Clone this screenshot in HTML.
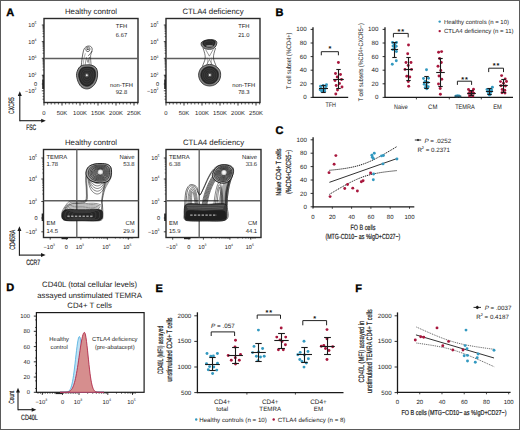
<!DOCTYPE html><html><head><meta charset="utf-8"><style>
html,body{margin:0;padding:0;background:#fff;width:520px;height:430px;overflow:hidden}
svg{display:block;font-family:"Liberation Sans",sans-serif;text-rendering:geometricPrecision}
</style></head><body>
<svg width="520" height="430" viewBox="0 0 520 430" xmlns="http://www.w3.org/2000/svg">
<rect x="0" y="0" width="520" height="430" fill="#fff"/>
<text x="6.30" y="16.30" font-size="11" text-anchor="start" font-weight="bold" fill="#000" stroke="#000" stroke-width="0.35" style="">A</text>
<text x="275.40" y="16.20" font-size="11" text-anchor="start" font-weight="bold" fill="#000" stroke="#000" stroke-width="0.35" style="">B</text>
<text x="275.40" y="134.20" font-size="11" text-anchor="start" font-weight="bold" fill="#000" stroke="#000" stroke-width="0.35" style="">C</text>
<text x="6.20" y="291.20" font-size="11" text-anchor="start" font-weight="bold" fill="#000" stroke="#000" stroke-width="0.35" style="">D</text>
<text x="155.40" y="292.40" font-size="11" text-anchor="start" font-weight="bold" fill="#000" stroke="#000" stroke-width="0.35" style="">E</text>
<text x="355.30" y="291.60" font-size="11" text-anchor="start" font-weight="bold" fill="#000" stroke="#000" stroke-width="0.35" style="">F</text>
<text x="91.00" y="13.80" font-size="7.8" text-anchor="middle" font-weight="normal" fill="#1a1a1a"  style="">Healthy control</text>
<rect x="44.00" y="18.50" width="94.00" height="84.00" fill="none" stroke="#2a2a2a" stroke-width="1.4"/>
<line x1="44.00" y1="58.50" x2="138.00" y2="58.50" stroke="#5e5e5e" stroke-width="1.6" />
<text x="36.50" y="27.10" font-size="5.6" text-anchor="end" fill="#1a1a1a">10<tspan font-size="3.47" dy="-2.80">5</tspan></text>
<text x="36.50" y="43.70" font-size="5.6" text-anchor="end" fill="#1a1a1a">10<tspan font-size="3.47" dy="-2.80">4</tspan></text>
<text x="36.50" y="60.40" font-size="5.6" text-anchor="end" fill="#1a1a1a">10<tspan font-size="3.47" dy="-2.80">3</tspan></text>
<text x="36.50" y="77.30" font-size="5.6" text-anchor="end" fill="#1a1a1a">10<tspan font-size="3.47" dy="-2.80">2</tspan></text>
<text x="37.00" y="86.10" font-size="5.6" text-anchor="end" font-weight="normal" fill="#1a1a1a"  style="">0</text>
<text x="36.50" y="92.90" font-size="5.6" text-anchor="end" fill="#1a1a1a">&#8722;10<tspan font-size="3.47" dy="-2.80">2</tspan></text>
<line x1="41.80" y1="25.00" x2="44.00" y2="25.00" stroke="#1a1a1a" stroke-width="0.8" />
<line x1="41.80" y1="41.60" x2="44.00" y2="41.60" stroke="#1a1a1a" stroke-width="0.8" />
<line x1="41.80" y1="58.30" x2="44.00" y2="58.30" stroke="#1a1a1a" stroke-width="0.8" />
<line x1="41.80" y1="75.20" x2="44.00" y2="75.20" stroke="#1a1a1a" stroke-width="0.8" />
<line x1="41.80" y1="84.00" x2="44.00" y2="84.00" stroke="#1a1a1a" stroke-width="0.8" />
<line x1="41.80" y1="90.80" x2="44.00" y2="90.80" stroke="#1a1a1a" stroke-width="0.8" />
<line x1="42.50" y1="36.60" x2="44.00" y2="36.60" stroke="#1a1a1a" stroke-width="0.6" />
<line x1="42.50" y1="33.68" x2="44.00" y2="33.68" stroke="#1a1a1a" stroke-width="0.6" />
<line x1="42.50" y1="31.61" x2="44.00" y2="31.61" stroke="#1a1a1a" stroke-width="0.6" />
<line x1="42.50" y1="30.00" x2="44.00" y2="30.00" stroke="#1a1a1a" stroke-width="0.6" />
<line x1="42.50" y1="28.68" x2="44.00" y2="28.68" stroke="#1a1a1a" stroke-width="0.6" />
<line x1="42.50" y1="27.57" x2="44.00" y2="27.57" stroke="#1a1a1a" stroke-width="0.6" />
<line x1="42.50" y1="26.61" x2="44.00" y2="26.61" stroke="#1a1a1a" stroke-width="0.6" />
<line x1="42.50" y1="25.76" x2="44.00" y2="25.76" stroke="#1a1a1a" stroke-width="0.6" />
<line x1="42.50" y1="53.20" x2="44.00" y2="53.20" stroke="#1a1a1a" stroke-width="0.6" />
<line x1="42.50" y1="50.28" x2="44.00" y2="50.28" stroke="#1a1a1a" stroke-width="0.6" />
<line x1="42.50" y1="48.21" x2="44.00" y2="48.21" stroke="#1a1a1a" stroke-width="0.6" />
<line x1="42.50" y1="46.60" x2="44.00" y2="46.60" stroke="#1a1a1a" stroke-width="0.6" />
<line x1="42.50" y1="45.28" x2="44.00" y2="45.28" stroke="#1a1a1a" stroke-width="0.6" />
<line x1="42.50" y1="44.17" x2="44.00" y2="44.17" stroke="#1a1a1a" stroke-width="0.6" />
<line x1="42.50" y1="43.21" x2="44.00" y2="43.21" stroke="#1a1a1a" stroke-width="0.6" />
<line x1="42.50" y1="42.36" x2="44.00" y2="42.36" stroke="#1a1a1a" stroke-width="0.6" />
<line x1="42.50" y1="69.90" x2="44.00" y2="69.90" stroke="#1a1a1a" stroke-width="0.6" />
<line x1="42.50" y1="66.98" x2="44.00" y2="66.98" stroke="#1a1a1a" stroke-width="0.6" />
<line x1="42.50" y1="64.91" x2="44.00" y2="64.91" stroke="#1a1a1a" stroke-width="0.6" />
<line x1="42.50" y1="63.30" x2="44.00" y2="63.30" stroke="#1a1a1a" stroke-width="0.6" />
<line x1="42.50" y1="61.98" x2="44.00" y2="61.98" stroke="#1a1a1a" stroke-width="0.6" />
<line x1="42.50" y1="60.87" x2="44.00" y2="60.87" stroke="#1a1a1a" stroke-width="0.6" />
<line x1="42.50" y1="59.91" x2="44.00" y2="59.91" stroke="#1a1a1a" stroke-width="0.6" />
<line x1="42.50" y1="59.06" x2="44.00" y2="59.06" stroke="#1a1a1a" stroke-width="0.6" />
<line x1="42.50" y1="80.79" x2="44.00" y2="80.79" stroke="#1a1a1a" stroke-width="0.6" />
<line x1="42.50" y1="79.38" x2="44.00" y2="79.38" stroke="#1a1a1a" stroke-width="0.6" />
<line x1="42.50" y1="78.38" x2="44.00" y2="78.38" stroke="#1a1a1a" stroke-width="0.6" />
<line x1="42.50" y1="77.61" x2="44.00" y2="77.61" stroke="#1a1a1a" stroke-width="0.6" />
<line x1="42.50" y1="76.97" x2="44.00" y2="76.97" stroke="#1a1a1a" stroke-width="0.6" />
<line x1="42.50" y1="76.44" x2="44.00" y2="76.44" stroke="#1a1a1a" stroke-width="0.6" />
<line x1="42.50" y1="75.98" x2="44.00" y2="75.98" stroke="#1a1a1a" stroke-width="0.6" />
<line x1="42.50" y1="75.57" x2="44.00" y2="75.57" stroke="#1a1a1a" stroke-width="0.6" />
<line x1="42.50" y1="93.60" x2="44.00" y2="93.60" stroke="#1a1a1a" stroke-width="0.6" />
<line x1="42.50" y1="96.40" x2="44.00" y2="96.40" stroke="#1a1a1a" stroke-width="0.6" />
<line x1="42.50" y1="99.20" x2="44.00" y2="99.20" stroke="#1a1a1a" stroke-width="0.6" />
<rect x="42.20" y="79.5" width="1.8" height="9.5" fill="#222"/>
<text x="44.00" y="114.60" font-size="5.9" text-anchor="middle" font-weight="normal" fill="#1a1a1a"  style="">0</text>
<line x1="44.00" y1="102.50" x2="44.00" y2="105.50" stroke="#1a1a1a" stroke-width="0.9" />
<line x1="47.60" y1="102.50" x2="47.60" y2="104.50" stroke="#1a1a1a" stroke-width="0.7" />
<line x1="51.20" y1="102.50" x2="51.20" y2="104.50" stroke="#1a1a1a" stroke-width="0.7" />
<line x1="54.80" y1="102.50" x2="54.80" y2="104.50" stroke="#1a1a1a" stroke-width="0.7" />
<line x1="58.40" y1="102.50" x2="58.40" y2="104.50" stroke="#1a1a1a" stroke-width="0.7" />
<text x="62.00" y="114.60" font-size="5.9" text-anchor="middle" font-weight="normal" fill="#1a1a1a"  style="">50K</text>
<line x1="62.00" y1="102.50" x2="62.00" y2="105.50" stroke="#1a1a1a" stroke-width="0.9" />
<line x1="65.60" y1="102.50" x2="65.60" y2="104.50" stroke="#1a1a1a" stroke-width="0.7" />
<line x1="69.20" y1="102.50" x2="69.20" y2="104.50" stroke="#1a1a1a" stroke-width="0.7" />
<line x1="72.80" y1="102.50" x2="72.80" y2="104.50" stroke="#1a1a1a" stroke-width="0.7" />
<line x1="76.40" y1="102.50" x2="76.40" y2="104.50" stroke="#1a1a1a" stroke-width="0.7" />
<text x="80.00" y="114.60" font-size="5.9" text-anchor="middle" font-weight="normal" fill="#1a1a1a"  style="">100K</text>
<line x1="80.00" y1="102.50" x2="80.00" y2="105.50" stroke="#1a1a1a" stroke-width="0.9" />
<line x1="83.60" y1="102.50" x2="83.60" y2="104.50" stroke="#1a1a1a" stroke-width="0.7" />
<line x1="87.20" y1="102.50" x2="87.20" y2="104.50" stroke="#1a1a1a" stroke-width="0.7" />
<line x1="90.80" y1="102.50" x2="90.80" y2="104.50" stroke="#1a1a1a" stroke-width="0.7" />
<line x1="94.40" y1="102.50" x2="94.40" y2="104.50" stroke="#1a1a1a" stroke-width="0.7" />
<text x="98.00" y="114.60" font-size="5.9" text-anchor="middle" font-weight="normal" fill="#1a1a1a"  style="">150K</text>
<line x1="98.00" y1="102.50" x2="98.00" y2="105.50" stroke="#1a1a1a" stroke-width="0.9" />
<line x1="101.60" y1="102.50" x2="101.60" y2="104.50" stroke="#1a1a1a" stroke-width="0.7" />
<line x1="105.20" y1="102.50" x2="105.20" y2="104.50" stroke="#1a1a1a" stroke-width="0.7" />
<line x1="108.80" y1="102.50" x2="108.80" y2="104.50" stroke="#1a1a1a" stroke-width="0.7" />
<line x1="112.40" y1="102.50" x2="112.40" y2="104.50" stroke="#1a1a1a" stroke-width="0.7" />
<text x="116.00" y="114.60" font-size="5.9" text-anchor="middle" font-weight="normal" fill="#1a1a1a"  style="">200K</text>
<line x1="116.00" y1="102.50" x2="116.00" y2="105.50" stroke="#1a1a1a" stroke-width="0.9" />
<line x1="119.60" y1="102.50" x2="119.60" y2="104.50" stroke="#1a1a1a" stroke-width="0.7" />
<line x1="123.20" y1="102.50" x2="123.20" y2="104.50" stroke="#1a1a1a" stroke-width="0.7" />
<line x1="126.80" y1="102.50" x2="126.80" y2="104.50" stroke="#1a1a1a" stroke-width="0.7" />
<line x1="130.40" y1="102.50" x2="130.40" y2="104.50" stroke="#1a1a1a" stroke-width="0.7" />
<text x="134.00" y="114.60" font-size="5.9" text-anchor="middle" font-weight="normal" fill="#1a1a1a"  style="">250K</text>
<line x1="134.00" y1="102.50" x2="134.00" y2="105.50" stroke="#1a1a1a" stroke-width="0.9" />
<line x1="137.60" y1="102.50" x2="137.60" y2="104.50" stroke="#1a1a1a" stroke-width="0.7" />
<text x="213.00" y="13.80" font-size="7.8" text-anchor="middle" font-weight="normal" fill="#1a1a1a"  style="">CTLA4 deficiency</text>
<rect x="166.00" y="18.50" width="94.00" height="84.00" fill="none" stroke="#2a2a2a" stroke-width="1.4"/>
<line x1="166.00" y1="58.50" x2="260.00" y2="58.50" stroke="#5e5e5e" stroke-width="1.6" />
<text x="158.50" y="27.10" font-size="5.6" text-anchor="end" fill="#1a1a1a">10<tspan font-size="3.47" dy="-2.80">5</tspan></text>
<text x="158.50" y="43.70" font-size="5.6" text-anchor="end" fill="#1a1a1a">10<tspan font-size="3.47" dy="-2.80">4</tspan></text>
<text x="158.50" y="60.40" font-size="5.6" text-anchor="end" fill="#1a1a1a">10<tspan font-size="3.47" dy="-2.80">3</tspan></text>
<text x="158.50" y="77.30" font-size="5.6" text-anchor="end" fill="#1a1a1a">10<tspan font-size="3.47" dy="-2.80">2</tspan></text>
<text x="159.00" y="86.10" font-size="5.6" text-anchor="end" font-weight="normal" fill="#1a1a1a"  style="">0</text>
<text x="158.50" y="92.90" font-size="5.6" text-anchor="end" fill="#1a1a1a">&#8722;10<tspan font-size="3.47" dy="-2.80">2</tspan></text>
<line x1="163.80" y1="25.00" x2="166.00" y2="25.00" stroke="#1a1a1a" stroke-width="0.8" />
<line x1="163.80" y1="41.60" x2="166.00" y2="41.60" stroke="#1a1a1a" stroke-width="0.8" />
<line x1="163.80" y1="58.30" x2="166.00" y2="58.30" stroke="#1a1a1a" stroke-width="0.8" />
<line x1="163.80" y1="75.20" x2="166.00" y2="75.20" stroke="#1a1a1a" stroke-width="0.8" />
<line x1="163.80" y1="84.00" x2="166.00" y2="84.00" stroke="#1a1a1a" stroke-width="0.8" />
<line x1="163.80" y1="90.80" x2="166.00" y2="90.80" stroke="#1a1a1a" stroke-width="0.8" />
<line x1="164.50" y1="36.60" x2="166.00" y2="36.60" stroke="#1a1a1a" stroke-width="0.6" />
<line x1="164.50" y1="33.68" x2="166.00" y2="33.68" stroke="#1a1a1a" stroke-width="0.6" />
<line x1="164.50" y1="31.61" x2="166.00" y2="31.61" stroke="#1a1a1a" stroke-width="0.6" />
<line x1="164.50" y1="30.00" x2="166.00" y2="30.00" stroke="#1a1a1a" stroke-width="0.6" />
<line x1="164.50" y1="28.68" x2="166.00" y2="28.68" stroke="#1a1a1a" stroke-width="0.6" />
<line x1="164.50" y1="27.57" x2="166.00" y2="27.57" stroke="#1a1a1a" stroke-width="0.6" />
<line x1="164.50" y1="26.61" x2="166.00" y2="26.61" stroke="#1a1a1a" stroke-width="0.6" />
<line x1="164.50" y1="25.76" x2="166.00" y2="25.76" stroke="#1a1a1a" stroke-width="0.6" />
<line x1="164.50" y1="53.20" x2="166.00" y2="53.20" stroke="#1a1a1a" stroke-width="0.6" />
<line x1="164.50" y1="50.28" x2="166.00" y2="50.28" stroke="#1a1a1a" stroke-width="0.6" />
<line x1="164.50" y1="48.21" x2="166.00" y2="48.21" stroke="#1a1a1a" stroke-width="0.6" />
<line x1="164.50" y1="46.60" x2="166.00" y2="46.60" stroke="#1a1a1a" stroke-width="0.6" />
<line x1="164.50" y1="45.28" x2="166.00" y2="45.28" stroke="#1a1a1a" stroke-width="0.6" />
<line x1="164.50" y1="44.17" x2="166.00" y2="44.17" stroke="#1a1a1a" stroke-width="0.6" />
<line x1="164.50" y1="43.21" x2="166.00" y2="43.21" stroke="#1a1a1a" stroke-width="0.6" />
<line x1="164.50" y1="42.36" x2="166.00" y2="42.36" stroke="#1a1a1a" stroke-width="0.6" />
<line x1="164.50" y1="69.90" x2="166.00" y2="69.90" stroke="#1a1a1a" stroke-width="0.6" />
<line x1="164.50" y1="66.98" x2="166.00" y2="66.98" stroke="#1a1a1a" stroke-width="0.6" />
<line x1="164.50" y1="64.91" x2="166.00" y2="64.91" stroke="#1a1a1a" stroke-width="0.6" />
<line x1="164.50" y1="63.30" x2="166.00" y2="63.30" stroke="#1a1a1a" stroke-width="0.6" />
<line x1="164.50" y1="61.98" x2="166.00" y2="61.98" stroke="#1a1a1a" stroke-width="0.6" />
<line x1="164.50" y1="60.87" x2="166.00" y2="60.87" stroke="#1a1a1a" stroke-width="0.6" />
<line x1="164.50" y1="59.91" x2="166.00" y2="59.91" stroke="#1a1a1a" stroke-width="0.6" />
<line x1="164.50" y1="59.06" x2="166.00" y2="59.06" stroke="#1a1a1a" stroke-width="0.6" />
<line x1="164.50" y1="80.79" x2="166.00" y2="80.79" stroke="#1a1a1a" stroke-width="0.6" />
<line x1="164.50" y1="79.38" x2="166.00" y2="79.38" stroke="#1a1a1a" stroke-width="0.6" />
<line x1="164.50" y1="78.38" x2="166.00" y2="78.38" stroke="#1a1a1a" stroke-width="0.6" />
<line x1="164.50" y1="77.61" x2="166.00" y2="77.61" stroke="#1a1a1a" stroke-width="0.6" />
<line x1="164.50" y1="76.97" x2="166.00" y2="76.97" stroke="#1a1a1a" stroke-width="0.6" />
<line x1="164.50" y1="76.44" x2="166.00" y2="76.44" stroke="#1a1a1a" stroke-width="0.6" />
<line x1="164.50" y1="75.98" x2="166.00" y2="75.98" stroke="#1a1a1a" stroke-width="0.6" />
<line x1="164.50" y1="75.57" x2="166.00" y2="75.57" stroke="#1a1a1a" stroke-width="0.6" />
<line x1="164.50" y1="93.60" x2="166.00" y2="93.60" stroke="#1a1a1a" stroke-width="0.6" />
<line x1="164.50" y1="96.40" x2="166.00" y2="96.40" stroke="#1a1a1a" stroke-width="0.6" />
<line x1="164.50" y1="99.20" x2="166.00" y2="99.20" stroke="#1a1a1a" stroke-width="0.6" />
<rect x="164.20" y="79.5" width="1.8" height="9.5" fill="#222"/>
<text x="166.00" y="114.60" font-size="5.9" text-anchor="middle" font-weight="normal" fill="#1a1a1a"  style="">0</text>
<line x1="166.00" y1="102.50" x2="166.00" y2="105.50" stroke="#1a1a1a" stroke-width="0.9" />
<line x1="169.60" y1="102.50" x2="169.60" y2="104.50" stroke="#1a1a1a" stroke-width="0.7" />
<line x1="173.20" y1="102.50" x2="173.20" y2="104.50" stroke="#1a1a1a" stroke-width="0.7" />
<line x1="176.80" y1="102.50" x2="176.80" y2="104.50" stroke="#1a1a1a" stroke-width="0.7" />
<line x1="180.40" y1="102.50" x2="180.40" y2="104.50" stroke="#1a1a1a" stroke-width="0.7" />
<text x="184.00" y="114.60" font-size="5.9" text-anchor="middle" font-weight="normal" fill="#1a1a1a"  style="">50K</text>
<line x1="184.00" y1="102.50" x2="184.00" y2="105.50" stroke="#1a1a1a" stroke-width="0.9" />
<line x1="187.60" y1="102.50" x2="187.60" y2="104.50" stroke="#1a1a1a" stroke-width="0.7" />
<line x1="191.20" y1="102.50" x2="191.20" y2="104.50" stroke="#1a1a1a" stroke-width="0.7" />
<line x1="194.80" y1="102.50" x2="194.80" y2="104.50" stroke="#1a1a1a" stroke-width="0.7" />
<line x1="198.40" y1="102.50" x2="198.40" y2="104.50" stroke="#1a1a1a" stroke-width="0.7" />
<text x="202.00" y="114.60" font-size="5.9" text-anchor="middle" font-weight="normal" fill="#1a1a1a"  style="">100K</text>
<line x1="202.00" y1="102.50" x2="202.00" y2="105.50" stroke="#1a1a1a" stroke-width="0.9" />
<line x1="205.60" y1="102.50" x2="205.60" y2="104.50" stroke="#1a1a1a" stroke-width="0.7" />
<line x1="209.20" y1="102.50" x2="209.20" y2="104.50" stroke="#1a1a1a" stroke-width="0.7" />
<line x1="212.80" y1="102.50" x2="212.80" y2="104.50" stroke="#1a1a1a" stroke-width="0.7" />
<line x1="216.40" y1="102.50" x2="216.40" y2="104.50" stroke="#1a1a1a" stroke-width="0.7" />
<text x="220.00" y="114.60" font-size="5.9" text-anchor="middle" font-weight="normal" fill="#1a1a1a"  style="">150K</text>
<line x1="220.00" y1="102.50" x2="220.00" y2="105.50" stroke="#1a1a1a" stroke-width="0.9" />
<line x1="223.60" y1="102.50" x2="223.60" y2="104.50" stroke="#1a1a1a" stroke-width="0.7" />
<line x1="227.20" y1="102.50" x2="227.20" y2="104.50" stroke="#1a1a1a" stroke-width="0.7" />
<line x1="230.80" y1="102.50" x2="230.80" y2="104.50" stroke="#1a1a1a" stroke-width="0.7" />
<line x1="234.40" y1="102.50" x2="234.40" y2="104.50" stroke="#1a1a1a" stroke-width="0.7" />
<text x="238.00" y="114.60" font-size="5.9" text-anchor="middle" font-weight="normal" fill="#1a1a1a"  style="">200K</text>
<line x1="238.00" y1="102.50" x2="238.00" y2="105.50" stroke="#1a1a1a" stroke-width="0.9" />
<line x1="241.60" y1="102.50" x2="241.60" y2="104.50" stroke="#1a1a1a" stroke-width="0.7" />
<line x1="245.20" y1="102.50" x2="245.20" y2="104.50" stroke="#1a1a1a" stroke-width="0.7" />
<line x1="248.80" y1="102.50" x2="248.80" y2="104.50" stroke="#1a1a1a" stroke-width="0.7" />
<line x1="252.40" y1="102.50" x2="252.40" y2="104.50" stroke="#1a1a1a" stroke-width="0.7" />
<text x="256.00" y="114.60" font-size="5.9" text-anchor="middle" font-weight="normal" fill="#1a1a1a"  style="">250K</text>
<line x1="256.00" y1="102.50" x2="256.00" y2="105.50" stroke="#1a1a1a" stroke-width="0.9" />
<line x1="259.60" y1="102.50" x2="259.60" y2="104.50" stroke="#1a1a1a" stroke-width="0.7" />
<text x="121.50" y="28.30" font-size="5.8" text-anchor="middle" font-weight="normal" fill="#1a1a1a"  style="">TFH</text>
<text x="121.50" y="37.20" font-size="5.8" text-anchor="middle" font-weight="normal" fill="#1a1a1a"  style="">6.67</text>
<text x="121.50" y="86.90" font-size="5.8" text-anchor="middle" font-weight="normal" fill="#1a1a1a"  style="">non-TFH</text>
<text x="121.50" y="93.80" font-size="5.8" text-anchor="middle" font-weight="normal" fill="#1a1a1a"  style="">92.8</text>
<text x="243.80" y="28.30" font-size="5.8" text-anchor="middle" font-weight="normal" fill="#1a1a1a"  style="">TFH</text>
<text x="243.80" y="37.20" font-size="5.8" text-anchor="middle" font-weight="normal" fill="#1a1a1a"  style="">21.0</text>
<text x="243.80" y="86.90" font-size="5.8" text-anchor="middle" font-weight="normal" fill="#1a1a1a"  style="">non-TFH</text>
<text x="243.80" y="93.80" font-size="5.8" text-anchor="middle" font-weight="normal" fill="#1a1a1a"  style="">78.3</text>
<line x1="19.80" y1="94.30" x2="19.80" y2="121.25" stroke="#1a1a1a" stroke-width="1.1" />
<line x1="19.80" y1="120.70" x2="42.80" y2="120.70" stroke="#1a1a1a" stroke-width="1.1" />
<path d="M17.80,95.90 L19.80,91.30 L21.80,95.90Z" fill="#1a1a1a"/>
<path d="M41.20,118.70 L45.80,120.70 L41.20,122.70Z" fill="#1a1a1a"/>
<text transform="translate(14.03,105.60) rotate(-90)" x="0" y="0" font-size="7.8" text-anchor="middle" font-weight="normal" stroke="#1a1a1a" stroke-width="0.2" fill="#1a1a1a" textLength="16.6" lengthAdjust="spacingAndGlyphs">CXCR5</text>
<text x="31.10" y="129.90" font-size="7.8" text-anchor="middle" font-weight="normal" stroke="#1a1a1a" stroke-width="0.2" fill="#1a1a1a" textLength="9.9" lengthAdjust="spacingAndGlyphs"  style="">FSC</text>
<g fill="none" stroke="#1a1a1a">
<path d="M81.2,67 C81.6,61 82.4,55 83.6,50.2 C84.4,47.2 87,45.8 89.2,46.0 C91.4,46.3 92.6,48.0 92.1,50.4 C91.6,52.6 89.6,54.2 88.3,55.8" stroke-width="0.65"/>
<path d="M91.2,67 C91,62.5 90.4,59 90.6,55.5 C90.8,53.8 91.6,52.6 92.1,51" stroke-width="0.55"/>
<path d="M83,67 C83.3,62 84,57 85.4,53.3 M89.4,67 C89.2,63 88.8,60 89.6,57" stroke-width="0.45" stroke="#555"/>
<path d="M84.8,66.5 L86.4,57.5 L88,62.5 L89.4,57" stroke-width="0.5" stroke="#333"/>
<ellipse cx="87.9" cy="49.3" rx="2.0" ry="2.3" transform="rotate(20 87.9 49.3)" stroke-width="0.6"/>
</g>
<circle cx="87.9" cy="49.2" r="0.9" fill="#444"/>
<path d="M80.00,66.60 C81.57,65.17 84.00,65.12 86.00,64.90 C88.00,64.68 90.30,64.78 92.00,65.30 C93.70,65.82 95.27,66.72 96.20,68.00 C97.13,69.28 97.47,71.17 97.60,73.00 C97.73,74.83 97.52,77.08 97.00,79.00 C96.48,80.92 95.67,82.97 94.50,84.50 C93.33,86.03 91.50,87.48 90.00,88.20 C88.50,88.92 87.00,89.08 85.50,88.80 C84.00,88.52 82.28,87.80 81.00,86.50 C79.72,85.20 78.53,83.17 77.80,81.00 C77.07,78.83 76.23,75.90 76.60,73.50 C76.97,71.10 78.43,68.03 80.00,66.60Z" fill="#808080" stroke="#141414" stroke-width="0.75"/>
<path d="M80.63,67.40 C82.06,66.10 84.27,66.05 86.09,65.85 C87.91,65.66 90.00,65.75 91.55,66.22 C93.10,66.69 94.52,67.51 95.37,68.67 C96.22,69.84 96.52,71.56 96.65,73.22 C96.77,74.89 96.57,76.94 96.10,78.69 C95.63,80.43 94.89,82.29 93.83,83.69 C92.76,85.09 91.09,86.40 89.73,87.06 C88.37,87.71 87.00,87.86 85.64,87.60 C84.27,87.35 82.71,86.69 81.54,85.51 C80.37,84.33 79.30,82.48 78.63,80.50 C77.96,78.53 77.20,75.86 77.54,73.68 C77.87,71.50 79.20,68.71 80.63,67.40Z" fill="none" stroke="#8a8a8a" stroke-width="0.4"/>
<path d="M81.40,68.38 C82.65,67.23 84.60,67.19 86.20,67.02 C87.80,66.85 89.64,66.93 91.00,67.34 C92.36,67.75 93.61,68.47 94.36,69.50 C95.11,70.53 95.37,72.03 95.48,73.50 C95.59,74.97 95.41,76.77 95.00,78.30 C94.59,79.83 93.93,81.47 93.00,82.70 C92.07,83.93 90.60,85.09 89.40,85.66 C88.20,86.23 87.00,86.37 85.80,86.14 C84.60,85.91 83.23,85.34 82.20,84.30 C81.17,83.26 80.23,81.63 79.64,79.90 C79.05,78.17 78.39,75.82 78.68,73.90 C78.97,71.98 80.15,69.53 81.40,68.38Z" fill="#2b2b2b" stroke="#111" stroke-width="0.6"/>
<path d="M82.52,69.80 C83.52,68.89 85.08,68.85 86.36,68.72 C87.64,68.58 89.11,68.64 90.20,68.97 C91.29,69.30 92.29,69.88 92.89,70.70 C93.49,71.52 93.70,72.73 93.78,73.90 C93.87,75.07 93.73,76.51 93.40,77.74 C93.07,78.97 92.55,80.28 91.80,81.26 C91.05,82.24 89.88,83.17 88.92,83.63 C87.96,84.09 87.00,84.19 86.04,84.01 C85.08,83.83 83.98,83.37 83.16,82.54 C82.34,81.71 81.58,80.41 81.11,79.02 C80.64,77.63 80.11,75.76 80.34,74.22 C80.58,72.68 81.52,70.72 82.52,69.80Z" fill="none" stroke="#4c4c4c" stroke-width="0.45"/>
<path d="M83.64,71.23 C84.39,70.54 85.56,70.52 86.52,70.41 C87.48,70.31 88.58,70.36 89.40,70.60 C90.22,70.85 90.97,71.28 91.42,71.90 C91.86,72.52 92.02,73.42 92.09,74.30 C92.15,75.18 92.05,76.26 91.80,77.18 C91.55,78.10 91.16,79.08 90.60,79.82 C90.04,80.56 89.16,81.25 88.44,81.60 C87.72,81.94 87.00,82.02 86.28,81.88 C85.56,81.75 84.74,81.40 84.12,80.78 C83.50,80.16 82.94,79.18 82.58,78.14 C82.23,77.10 81.83,75.69 82.01,74.54 C82.18,73.39 82.89,71.92 83.64,71.23Z" fill="none" stroke="#4c4c4c" stroke-width="0.45"/>
<path d="M84.76,72.65 C85.26,72.19 86.04,72.18 86.68,72.11 C87.32,72.04 88.06,72.07 88.60,72.24 C89.14,72.40 89.65,72.69 89.94,73.10 C90.24,73.51 90.35,74.11 90.39,74.70 C90.43,75.29 90.37,76.01 90.20,76.62 C90.03,77.23 89.77,77.89 89.40,78.38 C89.03,78.87 88.44,79.33 87.96,79.56 C87.48,79.79 87.00,79.85 86.52,79.76 C86.04,79.67 85.49,79.44 85.08,79.02 C84.67,78.60 84.29,77.95 84.06,77.26 C83.82,76.57 83.55,75.63 83.67,74.86 C83.79,74.09 84.26,73.11 84.76,72.65Z" fill="none" stroke="#4c4c4c" stroke-width="0.45"/>
<circle cx="86.80" cy="75.30" r="2.2" fill="#6a6a6a" opacity="0.6"/>
<circle cx="86.80" cy="75.30" r="1.0" fill="#eeeeee"/>
<g fill="none" stroke="#1a1a1a">
<path d="M203.0,48.0 C204.4,52 205.4,55 205.2,58 C205.0,61 203.4,63.2 202.4,66.5" stroke-width="0.6"/>
<path d="M215.6,48.0 C214.3,52 213.3,55 213.5,58 C213.7,61 215.2,63.2 216.3,66.5" stroke-width="0.6"/>
<path d="M205.6,49.5 L209.4,56.2 L213.2,49.5" stroke-width="0.5" stroke="#333"/>
<path d="M206.2,65.8 L209.4,59.4 L212.6,65.8" stroke-width="0.5" stroke="#333"/>
<path d="M207.2,57.5 L207.6,64 M211.6,57.5 L211.2,64" stroke-width="0.4" stroke="#555"/>
</g>
<path d="M201.80,42.00 C202.53,41.38 204.05,40.67 205.50,40.30 C206.95,39.93 208.95,39.80 210.50,39.80 C212.05,39.80 213.75,39.88 214.80,40.30 C215.85,40.72 216.60,41.38 216.80,42.30 C217.00,43.22 216.57,44.75 216.00,45.80 C215.43,46.85 214.50,48.02 213.40,48.60 C212.30,49.18 210.77,49.28 209.40,49.30 C208.03,49.32 206.43,49.15 205.20,48.70 C203.97,48.25 202.68,47.38 202.00,46.60 C201.32,45.82 201.13,44.77 201.10,44.00 C201.07,43.23 201.07,42.62 201.80,42.00Z" fill="#808080" stroke="#141414" stroke-width="0.75"/>
<path d="M202.45,42.23 C203.12,41.66 204.50,41.01 205.81,40.68 C207.13,40.34 208.95,40.22 210.37,40.22 C211.78,40.22 213.32,40.30 214.28,40.68 C215.23,41.06 215.92,41.66 216.10,42.50 C216.28,43.33 215.89,44.73 215.37,45.68 C214.85,46.64 214.01,47.70 213.00,48.23 C212.00,48.76 210.61,48.85 209.36,48.87 C208.12,48.88 206.66,48.73 205.54,48.32 C204.42,47.91 203.25,47.12 202.63,46.41 C202.01,45.70 201.84,44.74 201.81,44.05 C201.78,43.35 201.78,42.79 202.45,42.23Z" fill="none" stroke="#8a8a8a" stroke-width="0.4"/>
<path d="M203.38,41.55 C203.96,41.07 205.14,40.51 206.27,40.22 C207.40,39.94 208.96,39.83 210.17,39.83 C211.38,39.83 212.70,39.90 213.52,40.22 C214.34,40.55 214.93,41.07 215.08,41.78 C215.24,42.50 214.90,43.69 214.46,44.51 C214.02,45.33 213.29,46.24 212.43,46.70 C211.57,47.15 210.38,47.23 209.31,47.24 C208.25,47.26 207.00,47.13 206.04,46.78 C205.07,46.43 204.07,45.75 203.54,45.14 C203.01,44.53 202.86,43.71 202.84,43.11 C202.81,42.51 202.81,42.03 203.38,41.55Z" fill="#2b2b2b" stroke="#111" stroke-width="0.6"/>
<path d="M205.04,42.12 C205.44,41.79 206.28,41.39 207.07,41.19 C207.87,40.99 208.97,40.91 209.82,40.91 C210.68,40.91 211.61,40.96 212.19,41.19 C212.77,41.42 213.18,41.79 213.29,42.29 C213.40,42.79 213.16,43.64 212.85,44.21 C212.54,44.79 212.03,45.43 211.42,45.76 C210.82,46.08 209.97,46.13 209.22,46.14 C208.47,46.15 207.59,46.06 206.91,45.81 C206.23,45.56 205.53,45.09 205.15,44.66 C204.77,44.22 204.67,43.65 204.66,43.23 C204.64,42.80 204.64,42.46 205.04,42.12Z" fill="none" stroke="#4c4c4c" stroke-width="0.45"/>
<ellipse cx="209.6" cy="45.9" rx="3.4" ry="0.9" fill="#a8a8a8" opacity="0.8"/>
<path d="M202.80,66.60 C204.45,65.58 207.30,64.43 209.50,64.40 C211.70,64.37 214.28,65.40 216.00,66.40 C217.72,67.40 219.03,68.88 219.80,70.40 C220.57,71.92 220.70,73.80 220.60,75.50 C220.50,77.20 220.10,79.08 219.20,80.60 C218.30,82.12 216.80,83.70 215.20,84.60 C213.60,85.50 211.47,86.00 209.60,86.00 C207.73,86.00 205.57,85.50 204.00,84.60 C202.43,83.70 201.10,82.12 200.20,80.60 C199.30,79.08 198.70,77.18 198.60,75.50 C198.50,73.82 198.90,71.98 199.60,70.50 C200.30,69.02 201.15,67.62 202.80,66.60Z" fill="#808080" stroke="#141414" stroke-width="0.75"/>
<path d="M203.41,67.37 C204.91,66.45 207.51,65.40 209.51,65.37 C211.51,65.34 213.86,66.28 215.42,67.19 C216.99,68.10 218.18,69.45 218.88,70.83 C219.58,72.21 219.70,73.93 219.61,75.47 C219.52,77.02 219.15,78.73 218.34,80.11 C217.52,81.49 216.15,82.93 214.70,83.75 C213.24,84.57 211.30,85.03 209.60,85.03 C207.90,85.03 205.93,84.57 204.50,83.75 C203.08,82.93 201.86,81.49 201.05,80.11 C200.23,78.73 199.68,77.00 199.59,75.47 C199.50,73.94 199.86,72.27 200.50,70.92 C201.14,69.57 201.91,68.30 203.41,67.37Z" fill="none" stroke="#8a8a8a" stroke-width="0.4"/>
<path d="M204.16,68.32 C205.48,67.51 207.76,66.59 209.52,66.56 C211.28,66.53 213.35,67.36 214.72,68.16 C216.09,68.96 217.15,70.15 217.76,71.36 C218.37,72.57 218.48,74.08 218.40,75.44 C218.32,76.80 218.00,78.31 217.28,79.52 C216.56,80.73 215.36,82.00 214.08,82.72 C212.80,83.44 211.09,83.84 209.60,83.84 C208.11,83.84 206.37,83.44 205.12,82.72 C203.87,82.00 202.80,80.73 202.08,79.52 C201.36,78.31 200.88,76.79 200.80,75.44 C200.72,74.09 201.04,72.63 201.60,71.44 C202.16,70.25 202.84,69.13 204.16,68.32Z" fill="#2b2b2b" stroke="#111" stroke-width="0.6"/>
<path d="M205.25,69.70 C206.30,69.05 208.13,68.31 209.54,68.29 C210.94,68.27 212.60,68.93 213.70,69.57 C214.79,70.21 215.64,71.16 216.13,72.13 C216.62,73.10 216.70,74.30 216.64,75.39 C216.58,76.48 216.32,77.69 215.74,78.66 C215.17,79.63 214.21,80.64 213.18,81.22 C212.16,81.79 210.79,82.11 209.60,82.11 C208.41,82.11 207.02,81.79 206.02,81.22 C205.01,80.64 204.16,79.63 203.58,78.66 C203.01,77.69 202.62,76.47 202.56,75.39 C202.50,74.31 202.75,73.14 203.20,72.19 C203.65,71.24 204.19,70.35 205.25,69.70Z" fill="none" stroke="#4c4c4c" stroke-width="0.45"/>
<path d="M206.34,71.07 C207.13,70.58 208.50,70.03 209.55,70.02 C210.61,70.00 211.85,70.50 212.67,70.98 C213.50,71.46 214.13,72.17 214.50,72.90 C214.86,73.62 214.93,74.53 214.88,75.34 C214.83,76.16 214.64,77.06 214.21,77.79 C213.78,78.52 213.06,79.28 212.29,79.71 C211.52,80.14 210.50,80.38 209.60,80.38 C208.70,80.38 207.66,80.14 206.91,79.71 C206.16,79.28 205.52,78.52 205.09,77.79 C204.66,77.06 204.37,76.15 204.32,75.34 C204.27,74.54 204.46,73.66 204.80,72.94 C205.14,72.23 205.54,71.56 206.34,71.07Z" fill="none" stroke="#4c4c4c" stroke-width="0.45"/>
<path d="M207.42,72.45 C207.95,72.12 208.86,71.75 209.57,71.74 C210.27,71.73 211.10,72.06 211.65,72.38 C212.20,72.70 212.62,73.18 212.86,73.66 C213.11,74.15 213.15,74.75 213.12,75.30 C213.09,75.84 212.96,76.44 212.67,76.93 C212.38,77.41 211.90,77.92 211.39,78.21 C210.88,78.50 210.20,78.66 209.60,78.66 C209.00,78.66 208.31,78.50 207.81,78.21 C207.31,77.92 206.88,77.41 206.59,76.93 C206.30,76.44 206.11,75.83 206.08,75.30 C206.05,74.76 206.18,74.17 206.40,73.70 C206.62,73.22 206.90,72.77 207.42,72.45Z" fill="none" stroke="#4c4c4c" stroke-width="0.45"/>
<circle cx="209.80" cy="75.00" r="2.2" fill="#6a6a6a" opacity="0.6"/>
<circle cx="209.80" cy="75.00" r="1.0" fill="#eeeeee"/>
<text x="91.00" y="144.80" font-size="7.8" text-anchor="middle" font-weight="normal" fill="#1a1a1a"  style="">Healthy control</text>
<rect x="43.50" y="149.50" width="95.00" height="88.00" fill="none" stroke="#2a2a2a" stroke-width="1.4"/>
<line x1="43.50" y1="200.80" x2="138.50" y2="200.80" stroke="#5e5e5e" stroke-width="1.5" />
<line x1="76.80" y1="149.50" x2="76.80" y2="237.50" stroke="#666" stroke-width="1.4" />
<text x="37.00" y="160.10" font-size="5.6" text-anchor="end" fill="#1a1a1a">10<tspan font-size="3.47" dy="-2.80">5</tspan></text>
<text x="37.00" y="181.10" font-size="5.6" text-anchor="end" fill="#1a1a1a">10<tspan font-size="3.47" dy="-2.80">4</tspan></text>
<text x="37.00" y="203.60" font-size="5.6" text-anchor="end" fill="#1a1a1a">10<tspan font-size="3.47" dy="-2.80">3</tspan></text>
<text x="37.50" y="220.10" font-size="5.6" text-anchor="end" font-weight="normal" fill="#1a1a1a"  style="">0</text>
<text x="37.00" y="233.90" font-size="5.6" text-anchor="end" fill="#1a1a1a">&#8722;10<tspan font-size="3.47" dy="-2.80">3</tspan></text>
<line x1="41.30" y1="158.00" x2="43.50" y2="158.00" stroke="#1a1a1a" stroke-width="0.8" />
<line x1="41.30" y1="179.00" x2="43.50" y2="179.00" stroke="#1a1a1a" stroke-width="0.8" />
<line x1="41.30" y1="201.50" x2="43.50" y2="201.50" stroke="#1a1a1a" stroke-width="0.8" />
<line x1="41.30" y1="218.00" x2="43.50" y2="218.00" stroke="#1a1a1a" stroke-width="0.8" />
<line x1="41.30" y1="231.80" x2="43.50" y2="231.80" stroke="#1a1a1a" stroke-width="0.8" />
<line x1="42.20" y1="173.03" x2="43.50" y2="173.03" stroke="#1a1a1a" stroke-width="0.5" />
<line x1="42.20" y1="169.24" x2="43.50" y2="169.24" stroke="#1a1a1a" stroke-width="0.5" />
<line x1="42.20" y1="166.56" x2="43.50" y2="166.56" stroke="#1a1a1a" stroke-width="0.5" />
<line x1="42.20" y1="164.47" x2="43.50" y2="164.47" stroke="#1a1a1a" stroke-width="0.5" />
<line x1="42.20" y1="162.77" x2="43.50" y2="162.77" stroke="#1a1a1a" stroke-width="0.5" />
<line x1="42.20" y1="161.33" x2="43.50" y2="161.33" stroke="#1a1a1a" stroke-width="0.5" />
<line x1="42.20" y1="160.08" x2="43.50" y2="160.08" stroke="#1a1a1a" stroke-width="0.5" />
<line x1="42.20" y1="158.98" x2="43.50" y2="158.98" stroke="#1a1a1a" stroke-width="0.5" />
<line x1="42.20" y1="194.03" x2="43.50" y2="194.03" stroke="#1a1a1a" stroke-width="0.5" />
<line x1="42.20" y1="190.24" x2="43.50" y2="190.24" stroke="#1a1a1a" stroke-width="0.5" />
<line x1="42.20" y1="187.56" x2="43.50" y2="187.56" stroke="#1a1a1a" stroke-width="0.5" />
<line x1="42.20" y1="185.47" x2="43.50" y2="185.47" stroke="#1a1a1a" stroke-width="0.5" />
<line x1="42.20" y1="183.77" x2="43.50" y2="183.77" stroke="#1a1a1a" stroke-width="0.5" />
<line x1="42.20" y1="182.33" x2="43.50" y2="182.33" stroke="#1a1a1a" stroke-width="0.5" />
<line x1="42.20" y1="181.08" x2="43.50" y2="181.08" stroke="#1a1a1a" stroke-width="0.5" />
<line x1="42.20" y1="179.98" x2="43.50" y2="179.98" stroke="#1a1a1a" stroke-width="0.5" />
<rect x="41.70" y="213.5" width="1.8" height="7.5" fill="#222"/>
<text x="49.20" y="248.7" font-size="5.6" text-anchor="middle" fill="#1a1a1a">&#8722;10<tspan font-size="3.4" dy="-2.7">3</tspan></text>
<line x1="50.20" y1="237.50" x2="50.20" y2="239.70" stroke="#1a1a1a" stroke-width="0.8" />
<text x="66.40" y="248.70" font-size="5.6" text-anchor="middle" font-weight="normal" fill="#1a1a1a"  style="">0</text>
<line x1="66.40" y1="237.50" x2="66.40" y2="239.70" stroke="#1a1a1a" stroke-width="0.8" />
<text x="79.90" y="248.7" font-size="5.6" text-anchor="middle" fill="#1a1a1a">10<tspan font-size="3.4" dy="-2.7">3</tspan></text>
<line x1="80.90" y1="237.50" x2="80.90" y2="239.70" stroke="#1a1a1a" stroke-width="0.8" />
<text x="106.40" y="248.7" font-size="5.6" text-anchor="middle" fill="#1a1a1a">10<tspan font-size="3.4" dy="-2.7">4</tspan></text>
<line x1="107.40" y1="237.50" x2="107.40" y2="239.70" stroke="#1a1a1a" stroke-width="0.8" />
<text x="127.30" y="248.7" font-size="5.6" text-anchor="middle" fill="#1a1a1a">10<tspan font-size="3.4" dy="-2.7">5</tspan></text>
<line x1="128.30" y1="237.50" x2="128.30" y2="239.70" stroke="#1a1a1a" stroke-width="0.8" />
<line x1="88.88" y1="237.50" x2="88.88" y2="238.80" stroke="#1a1a1a" stroke-width="0.5" />
<line x1="93.54" y1="237.50" x2="93.54" y2="238.80" stroke="#1a1a1a" stroke-width="0.5" />
<line x1="96.85" y1="237.50" x2="96.85" y2="238.80" stroke="#1a1a1a" stroke-width="0.5" />
<line x1="99.42" y1="237.50" x2="99.42" y2="238.80" stroke="#1a1a1a" stroke-width="0.5" />
<line x1="101.52" y1="237.50" x2="101.52" y2="238.80" stroke="#1a1a1a" stroke-width="0.5" />
<line x1="103.30" y1="237.50" x2="103.30" y2="238.80" stroke="#1a1a1a" stroke-width="0.5" />
<line x1="104.83" y1="237.50" x2="104.83" y2="238.80" stroke="#1a1a1a" stroke-width="0.5" />
<line x1="106.19" y1="237.50" x2="106.19" y2="238.80" stroke="#1a1a1a" stroke-width="0.5" />
<line x1="115.38" y1="237.50" x2="115.38" y2="238.80" stroke="#1a1a1a" stroke-width="0.5" />
<line x1="120.04" y1="237.50" x2="120.04" y2="238.80" stroke="#1a1a1a" stroke-width="0.5" />
<line x1="123.35" y1="237.50" x2="123.35" y2="238.80" stroke="#1a1a1a" stroke-width="0.5" />
<line x1="125.92" y1="237.50" x2="125.92" y2="238.80" stroke="#1a1a1a" stroke-width="0.5" />
<line x1="128.02" y1="237.50" x2="128.02" y2="238.80" stroke="#1a1a1a" stroke-width="0.5" />
<line x1="129.80" y1="237.50" x2="129.80" y2="238.80" stroke="#1a1a1a" stroke-width="0.5" />
<line x1="131.33" y1="237.50" x2="131.33" y2="238.80" stroke="#1a1a1a" stroke-width="0.5" />
<line x1="132.69" y1="237.50" x2="132.69" y2="238.80" stroke="#1a1a1a" stroke-width="0.5" />
<rect x="61.50" y="237.50" width="6.5" height="1.7" fill="#222"/>
<text x="213.50" y="144.80" font-size="7.8" text-anchor="middle" font-weight="normal" fill="#1a1a1a"  style="">CTLA4 deficiency</text>
<rect x="166.00" y="149.50" width="95.00" height="88.00" fill="none" stroke="#2a2a2a" stroke-width="1.4"/>
<line x1="166.00" y1="200.80" x2="261.00" y2="200.80" stroke="#5e5e5e" stroke-width="1.5" />
<line x1="199.20" y1="149.50" x2="199.20" y2="237.50" stroke="#666" stroke-width="1.4" />
<text x="159.50" y="160.10" font-size="5.6" text-anchor="end" fill="#1a1a1a">10<tspan font-size="3.47" dy="-2.80">5</tspan></text>
<text x="159.50" y="181.10" font-size="5.6" text-anchor="end" fill="#1a1a1a">10<tspan font-size="3.47" dy="-2.80">4</tspan></text>
<text x="159.50" y="203.60" font-size="5.6" text-anchor="end" fill="#1a1a1a">10<tspan font-size="3.47" dy="-2.80">3</tspan></text>
<text x="160.00" y="220.10" font-size="5.6" text-anchor="end" font-weight="normal" fill="#1a1a1a"  style="">0</text>
<text x="159.50" y="233.90" font-size="5.6" text-anchor="end" fill="#1a1a1a">&#8722;10<tspan font-size="3.47" dy="-2.80">3</tspan></text>
<line x1="163.80" y1="158.00" x2="166.00" y2="158.00" stroke="#1a1a1a" stroke-width="0.8" />
<line x1="163.80" y1="179.00" x2="166.00" y2="179.00" stroke="#1a1a1a" stroke-width="0.8" />
<line x1="163.80" y1="201.50" x2="166.00" y2="201.50" stroke="#1a1a1a" stroke-width="0.8" />
<line x1="163.80" y1="218.00" x2="166.00" y2="218.00" stroke="#1a1a1a" stroke-width="0.8" />
<line x1="163.80" y1="231.80" x2="166.00" y2="231.80" stroke="#1a1a1a" stroke-width="0.8" />
<line x1="164.70" y1="173.03" x2="166.00" y2="173.03" stroke="#1a1a1a" stroke-width="0.5" />
<line x1="164.70" y1="169.24" x2="166.00" y2="169.24" stroke="#1a1a1a" stroke-width="0.5" />
<line x1="164.70" y1="166.56" x2="166.00" y2="166.56" stroke="#1a1a1a" stroke-width="0.5" />
<line x1="164.70" y1="164.47" x2="166.00" y2="164.47" stroke="#1a1a1a" stroke-width="0.5" />
<line x1="164.70" y1="162.77" x2="166.00" y2="162.77" stroke="#1a1a1a" stroke-width="0.5" />
<line x1="164.70" y1="161.33" x2="166.00" y2="161.33" stroke="#1a1a1a" stroke-width="0.5" />
<line x1="164.70" y1="160.08" x2="166.00" y2="160.08" stroke="#1a1a1a" stroke-width="0.5" />
<line x1="164.70" y1="158.98" x2="166.00" y2="158.98" stroke="#1a1a1a" stroke-width="0.5" />
<line x1="164.70" y1="194.03" x2="166.00" y2="194.03" stroke="#1a1a1a" stroke-width="0.5" />
<line x1="164.70" y1="190.24" x2="166.00" y2="190.24" stroke="#1a1a1a" stroke-width="0.5" />
<line x1="164.70" y1="187.56" x2="166.00" y2="187.56" stroke="#1a1a1a" stroke-width="0.5" />
<line x1="164.70" y1="185.47" x2="166.00" y2="185.47" stroke="#1a1a1a" stroke-width="0.5" />
<line x1="164.70" y1="183.77" x2="166.00" y2="183.77" stroke="#1a1a1a" stroke-width="0.5" />
<line x1="164.70" y1="182.33" x2="166.00" y2="182.33" stroke="#1a1a1a" stroke-width="0.5" />
<line x1="164.70" y1="181.08" x2="166.00" y2="181.08" stroke="#1a1a1a" stroke-width="0.5" />
<line x1="164.70" y1="179.98" x2="166.00" y2="179.98" stroke="#1a1a1a" stroke-width="0.5" />
<rect x="164.20" y="213.5" width="1.8" height="7.5" fill="#222"/>
<text x="171.70" y="248.7" font-size="5.6" text-anchor="middle" fill="#1a1a1a">&#8722;10<tspan font-size="3.4" dy="-2.7">3</tspan></text>
<line x1="172.70" y1="237.50" x2="172.70" y2="239.70" stroke="#1a1a1a" stroke-width="0.8" />
<text x="188.90" y="248.70" font-size="5.6" text-anchor="middle" font-weight="normal" fill="#1a1a1a"  style="">0</text>
<line x1="188.90" y1="237.50" x2="188.90" y2="239.70" stroke="#1a1a1a" stroke-width="0.8" />
<text x="202.40" y="248.7" font-size="5.6" text-anchor="middle" fill="#1a1a1a">10<tspan font-size="3.4" dy="-2.7">3</tspan></text>
<line x1="203.40" y1="237.50" x2="203.40" y2="239.70" stroke="#1a1a1a" stroke-width="0.8" />
<text x="228.90" y="248.7" font-size="5.6" text-anchor="middle" fill="#1a1a1a">10<tspan font-size="3.4" dy="-2.7">4</tspan></text>
<line x1="229.90" y1="237.50" x2="229.90" y2="239.70" stroke="#1a1a1a" stroke-width="0.8" />
<text x="249.80" y="248.7" font-size="5.6" text-anchor="middle" fill="#1a1a1a">10<tspan font-size="3.4" dy="-2.7">5</tspan></text>
<line x1="250.80" y1="237.50" x2="250.80" y2="239.70" stroke="#1a1a1a" stroke-width="0.8" />
<line x1="211.38" y1="237.50" x2="211.38" y2="238.80" stroke="#1a1a1a" stroke-width="0.5" />
<line x1="216.04" y1="237.50" x2="216.04" y2="238.80" stroke="#1a1a1a" stroke-width="0.5" />
<line x1="219.35" y1="237.50" x2="219.35" y2="238.80" stroke="#1a1a1a" stroke-width="0.5" />
<line x1="221.92" y1="237.50" x2="221.92" y2="238.80" stroke="#1a1a1a" stroke-width="0.5" />
<line x1="224.02" y1="237.50" x2="224.02" y2="238.80" stroke="#1a1a1a" stroke-width="0.5" />
<line x1="225.80" y1="237.50" x2="225.80" y2="238.80" stroke="#1a1a1a" stroke-width="0.5" />
<line x1="227.33" y1="237.50" x2="227.33" y2="238.80" stroke="#1a1a1a" stroke-width="0.5" />
<line x1="228.69" y1="237.50" x2="228.69" y2="238.80" stroke="#1a1a1a" stroke-width="0.5" />
<line x1="237.88" y1="237.50" x2="237.88" y2="238.80" stroke="#1a1a1a" stroke-width="0.5" />
<line x1="242.54" y1="237.50" x2="242.54" y2="238.80" stroke="#1a1a1a" stroke-width="0.5" />
<line x1="245.85" y1="237.50" x2="245.85" y2="238.80" stroke="#1a1a1a" stroke-width="0.5" />
<line x1="248.42" y1="237.50" x2="248.42" y2="238.80" stroke="#1a1a1a" stroke-width="0.5" />
<line x1="250.52" y1="237.50" x2="250.52" y2="238.80" stroke="#1a1a1a" stroke-width="0.5" />
<line x1="252.30" y1="237.50" x2="252.30" y2="238.80" stroke="#1a1a1a" stroke-width="0.5" />
<line x1="253.83" y1="237.50" x2="253.83" y2="238.80" stroke="#1a1a1a" stroke-width="0.5" />
<line x1="255.19" y1="237.50" x2="255.19" y2="238.80" stroke="#1a1a1a" stroke-width="0.5" />
<rect x="184.00" y="237.50" width="6.5" height="1.7" fill="#222"/>
<text x="46.50" y="158.60" font-size="5.9" text-anchor="start" font-weight="normal" fill="#1a1a1a"  style="">TEMRA</text>
<text x="46.50" y="166.40" font-size="5.9" text-anchor="start" font-weight="normal" fill="#1a1a1a"  style="">1.78</text>
<text x="134.60" y="158.60" font-size="5.9" text-anchor="end" font-weight="normal" fill="#1a1a1a"  style="">Naive</text>
<text x="134.60" y="166.40" font-size="5.9" text-anchor="end" font-weight="normal" fill="#1a1a1a"  style="">53.8</text>
<text x="46.50" y="224.80" font-size="5.9" text-anchor="start" font-weight="normal" fill="#1a1a1a"  style="">EM</text>
<text x="46.50" y="233.00" font-size="5.9" text-anchor="start" font-weight="normal" fill="#1a1a1a"  style="">14.5</text>
<text x="134.60" y="224.80" font-size="5.9" text-anchor="end" font-weight="normal" fill="#1a1a1a"  style="">CM</text>
<text x="134.60" y="233.00" font-size="5.9" text-anchor="end" font-weight="normal" fill="#1a1a1a"  style="">29.9</text>
<text x="169.00" y="158.60" font-size="5.9" text-anchor="start" font-weight="normal" fill="#1a1a1a"  style="">TEMRA</text>
<text x="169.00" y="166.40" font-size="5.9" text-anchor="start" font-weight="normal" fill="#1a1a1a"  style="">6.38</text>
<text x="257.10" y="158.60" font-size="5.9" text-anchor="end" font-weight="normal" fill="#1a1a1a"  style="">Naive</text>
<text x="257.10" y="166.40" font-size="5.9" text-anchor="end" font-weight="normal" fill="#1a1a1a"  style="">33.6</text>
<text x="169.00" y="224.80" font-size="5.9" text-anchor="start" font-weight="normal" fill="#1a1a1a"  style="">EM</text>
<text x="169.00" y="233.00" font-size="5.9" text-anchor="start" font-weight="normal" fill="#1a1a1a"  style="">15.9</text>
<text x="257.10" y="224.80" font-size="5.9" text-anchor="end" font-weight="normal" fill="#1a1a1a"  style="">CM</text>
<text x="257.10" y="233.00" font-size="5.9" text-anchor="end" font-weight="normal" fill="#1a1a1a"  style="">44.1</text>
<line x1="19.40" y1="229.30" x2="19.40" y2="255.65" stroke="#1a1a1a" stroke-width="1.1" />
<line x1="19.40" y1="255.10" x2="42.60" y2="255.10" stroke="#1a1a1a" stroke-width="1.1" />
<path d="M17.40,230.90 L19.40,226.30 L21.40,230.90Z" fill="#1a1a1a"/>
<path d="M41.00,253.10 L45.60,255.10 L41.00,257.10Z" fill="#1a1a1a"/>
<text transform="translate(14.83,239.80) rotate(-90)" x="0" y="0" font-size="7.8" text-anchor="middle" font-weight="normal" stroke="#1a1a1a" stroke-width="0.2" fill="#1a1a1a" textLength="19.8" lengthAdjust="spacingAndGlyphs">CD45RA</text>
<text x="33.10" y="264.80" font-size="7.8" text-anchor="middle" font-weight="normal" stroke="#1a1a1a" stroke-width="0.2" fill="#1a1a1a" textLength="13.9" lengthAdjust="spacingAndGlyphs"  style="">CCR7</text>
<path d="M62.20,211.50 C62.90,209.50 64.70,206.70 66.00,205.00 C67.30,203.30 68.00,201.93 70.00,201.30 C72.00,200.67 75.42,201.33 78.00,201.20 C80.58,201.07 84.12,202.37 85.50,200.50 C86.88,198.63 86.28,193.75 86.30,190.00 C86.32,186.25 85.40,181.50 85.60,178.00 C85.80,174.50 86.27,171.23 87.50,169.00 C88.73,166.77 90.75,165.50 93.00,164.60 C95.25,163.70 98.33,163.43 101.00,163.60 C103.67,163.77 107.25,164.37 109.00,165.60 C110.75,166.83 111.20,168.93 111.50,171.00 C111.80,173.07 111.47,175.83 110.80,178.00 C110.13,180.17 108.53,182.00 107.50,184.00 C106.47,186.00 105.47,187.25 104.60,190.00 C103.73,192.75 102.65,197.83 102.30,200.50 C101.95,203.17 102.42,203.75 102.50,206.00 C102.58,208.25 103.13,211.58 102.80,214.00 C102.47,216.42 103.97,219.37 100.50,220.50 C97.03,221.63 87.83,220.80 82.00,220.80 C76.17,220.80 68.87,221.13 65.50,220.50 C62.13,219.87 62.35,218.50 61.80,217.00 C61.25,215.50 61.50,213.50 62.20,211.50Z" fill="none" stroke="#1a1a1a" stroke-width="0.5"/>
<path d="M63.30,211.50 C64.00,209.59 65.80,207.07 67.10,205.55 C68.40,204.03 69.28,202.94 71.10,202.40 C72.92,201.86 75.51,202.56 78.00,202.30 C80.49,202.04 84.59,202.88 86.05,200.83 C87.51,198.78 86.70,193.81 86.74,190.00 C86.77,186.19 85.95,181.50 86.26,178.00 C86.57,174.50 87.48,171.05 88.60,169.00 C89.72,166.95 90.93,166.42 93.00,165.70 C95.07,164.98 98.33,164.53 101.00,164.70 C103.67,164.87 107.43,165.65 109.00,166.70 C110.57,167.75 110.28,169.12 110.40,171.00 C110.52,172.88 110.37,175.83 109.70,178.00 C109.03,180.17 107.36,182.00 106.40,184.00 C105.44,186.00 104.68,187.25 103.94,190.00 C103.20,192.75 102.27,197.83 101.97,200.50 C101.67,203.17 102.22,203.75 102.17,206.00 C102.12,208.25 102.16,211.66 101.70,214.00 C101.24,216.34 102.68,219.00 99.40,220.06 C96.12,221.12 87.47,220.36 82.00,220.36 C76.53,220.36 69.78,220.62 66.60,220.06 C63.42,219.50 63.45,218.43 62.90,217.00 C62.35,215.57 62.60,213.41 63.30,211.50Z" fill="none" stroke="#1a1a1a" stroke-width="0.45"/>
<path d="M64.40,211.50 C65.10,209.68 66.90,207.43 68.20,206.10 C69.50,204.77 70.57,203.95 72.20,203.50 C73.83,203.05 75.60,203.79 78.00,203.40 C80.40,203.01 85.07,203.39 86.60,201.16 C88.13,198.93 87.13,193.86 87.18,190.00 C87.23,186.14 86.50,181.50 86.92,178.00 C87.34,174.50 88.69,170.87 89.70,169.00 C90.71,167.13 91.12,167.33 93.00,166.80 C94.88,166.27 98.33,165.63 101.00,165.80 C103.67,165.97 107.62,166.93 109.00,167.80 C110.38,168.67 109.37,169.30 109.30,171.00 C109.23,172.70 109.27,175.83 108.60,178.00 C107.93,180.17 106.19,182.00 105.30,184.00 C104.41,186.00 103.89,187.25 103.28,190.00 C102.67,192.75 101.88,197.83 101.64,200.50 C101.40,203.17 102.01,203.75 101.84,206.00 C101.67,208.25 101.19,211.73 100.60,214.00 C100.01,216.27 101.40,218.63 98.30,219.62 C95.20,220.61 87.10,219.92 82.00,219.92 C76.90,219.92 70.70,220.11 67.70,219.62 C64.70,219.13 64.55,218.35 64.00,217.00 C63.45,215.65 63.70,213.32 64.40,211.50Z" fill="none" stroke="#1a1a1a" stroke-width="0.45"/>
<path d="M90.33,176.5 C90.63,180.90 95.00,183.40 97.30,183.40 C99.60,183.40 103.71,180.90 104.01,178.5" fill="none" stroke="#1a1a1a" stroke-width="0.55"/>
<path d="M89.78,176.5 C90.08,183.40 95.00,185.90 97.30,185.90 C99.60,185.90 104.08,183.40 104.38,178.5" fill="none" stroke="#1a1a1a" stroke-width="0.55"/>
<path d="M89.21,176.5 C89.51,186.00 95.00,188.50 97.30,188.50 C99.60,188.50 104.47,186.00 104.77,178.5" fill="none" stroke="#1a1a1a" stroke-width="0.55"/>
<path d="M88.62,176.5 C88.92,188.70 95.00,191.20 97.30,191.20 C99.60,191.20 104.88,188.70 105.18,178.5" fill="none" stroke="#1a1a1a" stroke-width="0.55"/>
<path d="M88.00,176.5 C88.30,191.50 95.00,194.00 97.30,194.00 C99.60,194.00 105.30,191.50 105.60,178.5" fill="none" stroke="#1a1a1a" stroke-width="0.55"/>
<path d="M86.00,172.00 C86.25,170.30 87.17,168.10 88.50,166.80 C89.83,165.50 91.92,164.73 94.00,164.20 C96.08,163.67 98.75,163.57 101.00,163.60 C103.25,163.63 105.87,163.80 107.50,164.40 C109.13,165.00 110.15,165.85 110.80,167.20 C111.45,168.55 111.45,170.73 111.40,172.50 C111.35,174.27 111.07,176.35 110.50,177.80 C109.93,179.25 109.33,180.37 108.00,181.20 C106.67,182.03 104.50,182.58 102.50,182.80 C100.50,183.02 98.00,182.88 96.00,182.50 C94.00,182.12 92.00,181.42 90.50,180.50 C89.00,179.58 87.75,178.42 87.00,177.00 C86.25,175.58 85.75,173.70 86.00,172.00Z" fill="#a2a2a2" stroke="#0e0e0e" stroke-width="0.9"/>
<path d="M88.32,172.07 C88.53,170.64 89.30,168.80 90.41,167.72 C91.53,166.63 93.27,165.99 95.01,165.54 C96.76,165.10 98.99,165.01 100.87,165.04 C102.75,165.07 104.94,165.21 106.31,165.71 C107.67,166.21 108.52,166.92 109.07,168.05 C109.61,169.18 109.61,171.01 109.57,172.48 C109.53,173.96 109.29,175.70 108.82,176.92 C108.34,178.13 107.84,179.06 106.72,179.76 C105.61,180.46 103.80,180.92 102.12,181.10 C100.45,181.28 98.36,181.17 96.69,180.85 C95.01,180.53 93.34,179.94 92.09,179.17 C90.83,178.41 89.79,177.43 89.16,176.25 C88.53,175.06 88.11,173.49 88.32,172.07Z" fill="none" stroke="#151515" stroke-width="0.68"/>
<path d="M89.91,172.11 C90.09,170.88 90.75,169.28 91.72,168.34 C92.69,167.40 94.20,166.84 95.71,166.46 C97.22,166.07 99.15,166.00 100.78,166.02 C102.41,166.05 104.31,166.17 105.49,166.60 C106.68,167.04 107.41,167.65 107.88,168.63 C108.35,169.61 108.35,171.19 108.32,172.47 C108.28,173.75 108.08,175.26 107.67,176.31 C107.26,177.37 106.82,178.17 105.85,178.78 C104.89,179.38 103.32,179.78 101.87,179.94 C100.42,180.10 98.61,180.00 97.16,179.72 C95.71,179.44 94.26,178.94 93.17,178.27 C92.08,177.61 91.18,176.76 90.63,175.73 C90.09,174.71 89.73,173.34 89.91,172.11Z" fill="none" stroke="#151515" stroke-width="0.66"/>
<path d="M91.30,172.15 C91.45,171.08 92.03,169.70 92.86,168.89 C93.70,168.07 95.01,167.59 96.31,167.26 C97.62,166.92 99.29,166.86 100.70,166.88 C102.11,166.90 103.75,167.01 104.78,167.38 C105.80,167.76 106.44,168.29 106.85,169.14 C107.26,169.99 107.26,171.35 107.22,172.46 C107.19,173.57 107.01,174.88 106.66,175.79 C106.30,176.70 105.93,177.40 105.09,177.92 C104.26,178.44 102.90,178.79 101.64,178.92 C100.39,179.06 98.82,178.97 97.57,178.73 C96.31,178.49 95.06,178.05 94.12,177.48 C93.18,176.90 92.39,176.17 91.92,175.28 C91.45,174.40 91.14,173.22 91.30,172.15Z" fill="none" stroke="#151515" stroke-width="0.64"/>
<path d="M92.57,172.19 C92.70,171.27 93.20,170.09 93.91,169.39 C94.63,168.69 95.75,168.28 96.87,167.99 C97.99,167.71 99.42,167.65 100.63,167.67 C101.84,167.69 103.24,167.78 104.12,168.10 C105.00,168.42 105.55,168.88 105.90,169.61 C106.24,170.33 106.24,171.50 106.22,172.45 C106.19,173.40 106.04,174.52 105.73,175.30 C105.43,176.08 105.11,176.68 104.39,177.13 C103.67,177.58 102.51,177.87 101.44,177.99 C100.36,178.10 99.02,178.03 97.94,177.83 C96.87,177.62 95.79,177.24 94.99,176.75 C94.18,176.26 93.51,175.63 93.11,174.87 C92.70,174.11 92.44,173.10 92.57,172.19Z" fill="none" stroke="#151515" stroke-width="0.62"/>
<path d="M93.77,172.22 C93.88,171.45 94.30,170.45 94.90,169.86 C95.50,169.27 96.45,168.93 97.39,168.69 C98.34,168.44 99.54,168.40 100.56,168.41 C101.58,168.43 102.77,168.50 103.51,168.78 C104.25,169.05 104.71,169.43 105.00,170.04 C105.30,170.66 105.30,171.64 105.27,172.45 C105.25,173.25 105.12,174.19 104.87,174.85 C104.61,175.50 104.34,176.01 103.73,176.39 C103.13,176.76 102.15,177.01 101.24,177.11 C100.34,177.21 99.20,177.15 98.30,176.98 C97.39,176.80 96.49,176.48 95.81,176.07 C95.13,175.65 94.56,175.13 94.22,174.48 C93.88,173.84 93.65,172.99 93.77,172.22Z" fill="none" stroke="#151515" stroke-width="0.60"/>
<path d="M94.91,172.25 C95.00,171.62 95.34,170.80 95.84,170.31 C96.33,169.83 97.11,169.54 97.89,169.34 C98.66,169.14 99.66,169.11 100.50,169.12 C101.34,169.13 102.31,169.19 102.92,169.42 C103.53,169.64 103.91,169.96 104.15,170.46 C104.39,170.96 104.39,171.78 104.38,172.44 C104.36,173.10 104.25,173.87 104.04,174.41 C103.83,174.95 103.61,175.37 103.11,175.68 C102.61,175.99 101.80,176.20 101.06,176.28 C100.31,176.36 99.38,176.31 98.63,176.17 C97.89,176.02 97.14,175.76 96.58,175.42 C96.02,175.08 95.56,174.64 95.28,174.12 C95.00,173.59 94.81,172.88 94.91,172.25Z" fill="none" stroke="#151515" stroke-width="0.58"/>
<path d="M96.00,172.28 C96.07,171.78 96.34,171.13 96.74,170.74 C97.13,170.36 97.75,170.13 98.36,169.97 C98.98,169.81 99.77,169.79 100.44,169.80 C101.10,169.80 101.88,169.85 102.36,170.03 C102.84,170.21 103.15,170.46 103.34,170.86 C103.53,171.26 103.53,171.91 103.52,172.43 C103.50,172.95 103.42,173.57 103.25,174.00 C103.08,174.43 102.90,174.76 102.51,175.00 C102.11,175.25 101.47,175.41 100.88,175.48 C100.29,175.54 99.55,175.50 98.96,175.39 C98.36,175.28 97.77,175.07 97.33,174.80 C96.88,174.53 96.51,174.18 96.29,173.76 C96.07,173.34 95.92,172.78 96.00,172.28Z" fill="none" stroke="#151515" stroke-width="0.56"/>
<path d="M97.05,172.31 C97.10,171.93 97.31,171.45 97.60,171.16 C97.90,170.87 98.36,170.70 98.82,170.58 C99.29,170.46 99.88,170.44 100.38,170.45 C100.88,170.45 101.46,170.49 101.82,170.63 C102.18,170.76 102.41,170.95 102.55,171.25 C102.70,171.55 102.70,172.03 102.68,172.42 C102.67,172.81 102.61,173.28 102.49,173.60 C102.36,173.92 102.23,174.17 101.93,174.35 C101.63,174.54 101.15,174.66 100.71,174.71 C100.27,174.76 99.71,174.73 99.27,174.64 C98.82,174.56 98.38,174.40 98.05,174.20 C97.72,173.99 97.44,173.73 97.27,173.42 C97.10,173.11 96.99,172.69 97.05,172.31Z" fill="none" stroke="#151515" stroke-width="0.54"/>
<circle cx="100.40" cy="172.00" r="2.52" fill="#d8d8d8"/>
<circle cx="100.40" cy="172.00" r="1.4" fill="#fafafa"/>
<path d="M64.50,208.40 C66.00,204.40 72.00,203.40 80.00,203.70 C88.00,203.90 94.00,201.90 101.00,204.90" fill="none" stroke="#222" stroke-width="0.5"/>
<path d="M65.30,209.75 C66.00,205.75 72.00,204.75 80.00,205.05 C88.00,205.25 94.00,203.25 100.50,206.25" fill="none" stroke="#222" stroke-width="0.5"/>
<path d="M66.10,211.10 C66.00,207.10 72.00,206.10 80.00,206.40 C88.00,206.60 94.00,204.60 100.00,207.60" fill="none" stroke="#222" stroke-width="0.5"/>
<path d="M66.90,212.45 C66.00,208.45 72.00,207.45 80.00,207.75 C88.00,207.95 94.00,205.95 99.50,208.95" fill="none" stroke="#222" stroke-width="0.5"/>
<path d="M67.70,213.80 C66.00,209.80 72.00,208.80 80.00,209.10 C88.00,209.30 94.00,207.30 99.00,210.30" fill="none" stroke="#222" stroke-width="0.5"/>
<path d="M62.00,215.00 C62.12,213.67 62.50,211.90 63.50,211.00 C64.50,210.10 64.92,209.80 68.00,209.60 C71.08,209.40 77.33,209.83 82.00,209.80 C86.67,209.77 92.75,209.28 96.00,209.40 C99.25,209.52 100.38,209.65 101.50,210.50 C102.62,211.35 102.70,213.05 102.70,214.50 C102.70,215.95 102.62,218.20 101.50,219.20 C100.38,220.20 99.25,220.27 96.00,220.50 C92.75,220.73 86.83,220.60 82.00,220.60 C77.17,220.60 70.20,220.77 67.00,220.50 C63.80,220.23 63.63,219.92 62.80,219.00 C61.97,218.08 61.88,216.33 62.00,215.00Z" fill="#262626" stroke="#0e0e0e" stroke-width="0.7"/>
<path d="M65.00,215.07 C65.10,213.94 65.43,212.44 66.28,211.68 C67.12,210.91 67.48,210.65 70.10,210.48 C72.72,210.31 78.03,210.68 82.00,210.66 C85.97,210.63 91.14,210.22 93.90,210.31 C96.66,210.41 97.63,210.53 98.58,211.25 C99.52,211.97 99.59,213.42 99.59,214.65 C99.59,215.88 99.52,217.79 98.58,218.64 C97.63,219.49 96.66,219.55 93.90,219.75 C91.14,219.95 86.11,219.84 82.00,219.84 C77.89,219.84 71.97,219.98 69.25,219.75 C66.53,219.52 66.39,219.25 65.68,218.47 C64.97,217.70 64.90,216.21 65.00,215.07Z" fill="none" stroke="#555" stroke-width="0.45"/>
<path d="M68.60,215.16 C68.68,214.27 68.94,213.09 69.61,212.49 C70.28,211.88 70.55,211.68 72.62,211.55 C74.69,211.41 78.87,211.70 82.00,211.68 C85.13,211.66 89.20,211.33 91.38,211.41 C93.56,211.49 94.32,211.58 95.06,212.15 C95.81,212.72 95.87,213.86 95.87,214.83 C95.87,215.80 95.81,217.31 95.06,217.98 C94.32,218.65 93.56,218.69 91.38,218.85 C89.20,219.01 85.24,218.92 82.00,218.92 C78.76,218.92 74.09,219.03 71.95,218.85 C69.81,218.67 69.69,218.46 69.14,217.84 C68.58,217.23 68.52,216.06 68.60,215.16Z" fill="none" stroke="#555" stroke-width="0.45"/>
<path d="M72.20,215.25 C72.26,214.60 72.45,213.74 72.94,213.29 C73.42,212.85 73.63,212.71 75.14,212.61 C76.65,212.51 79.71,212.72 82.00,212.71 C84.29,212.69 87.27,212.45 88.86,212.51 C90.45,212.57 91.01,212.63 91.56,213.05 C92.10,213.47 92.14,214.30 92.14,215.01 C92.14,215.72 92.10,216.82 91.56,217.31 C91.01,217.80 90.45,217.84 88.86,217.95 C87.27,218.06 84.37,218.00 82.00,218.00 C79.63,218.00 76.22,218.08 74.65,217.95 C73.08,217.82 73.00,217.66 72.59,217.22 C72.18,216.77 72.14,215.91 72.20,215.25Z" fill="none" stroke="#555" stroke-width="0.45"/>
<line x1="67.3" y1="216.2" x2="93" y2="216.2" stroke="#f4f4f4" stroke-width="0.85" stroke-dasharray="2.4 1.4"/>
<path d="M218,205 C219,196 221,187 225,180 L231.5,178 C229.5,186 227.8,195 227.4,205 Z" fill="#8c8c8c" opacity="0.75"/>
<path d="M184.60,206.00 C184.85,202.33 185.07,195.40 185.80,192.00 C186.53,188.60 187.80,186.80 189.00,185.60 C190.20,184.40 191.70,184.53 193.00,184.80 C194.30,185.07 195.88,185.83 196.80,187.20 C197.72,188.57 197.93,191.70 198.50,193.00 C199.07,194.30 199.37,195.83 200.20,195.00 C201.03,194.17 202.20,190.83 203.50,188.00 C204.80,185.17 206.52,180.92 208.00,178.00 C209.48,175.08 210.73,172.53 212.40,170.50 C214.07,168.47 215.73,166.78 218.00,165.80 C220.27,164.82 223.63,164.43 226.00,164.60 C228.37,164.77 230.93,165.65 232.20,166.80 C233.47,167.95 233.72,169.55 233.60,171.50 C233.48,173.45 232.23,176.08 231.50,178.50 C230.77,180.92 229.85,183.08 229.20,186.00 C228.55,188.92 227.93,192.67 227.60,196.00 C227.27,199.33 227.40,202.08 227.20,206.00 C227.00,209.92 230.10,217.03 226.40,219.50 C222.70,221.97 211.73,220.72 205.00,220.80 C198.27,220.88 189.45,221.13 186.00,220.00 C182.55,218.87 184.53,216.33 184.30,214.00 C184.07,211.67 184.35,209.67 184.60,206.00Z" fill="none" stroke="#111" stroke-width="0.6"/>
<path d="M185.80,206.00 C186.05,202.43 186.37,195.80 187.00,192.60 C187.63,189.40 188.60,187.90 189.60,186.80 C190.60,185.70 191.90,185.73 193.00,186.00 C194.10,186.27 195.34,187.23 196.20,188.40 C197.06,189.57 197.47,192.00 198.14,193.00 C198.81,194.00 199.25,195.23 200.20,194.40 C201.15,193.57 202.48,190.73 203.86,188.00 C205.24,185.27 206.98,180.82 208.48,178.00 C209.98,175.18 211.23,172.93 212.88,171.10 C214.53,169.27 216.17,167.88 218.36,167.00 C220.55,166.12 223.89,165.63 226.00,165.80 C228.11,165.97 229.93,167.05 231.00,168.00 C232.07,168.95 232.52,169.75 232.40,171.50 C232.28,173.25 231.03,176.08 230.30,178.50 C229.57,180.92 228.65,183.08 228.00,186.00 C227.35,188.92 226.73,192.67 226.40,196.00 C226.07,199.33 226.20,202.16 226.00,206.00 C225.80,209.84 228.70,216.63 225.20,219.02 C221.70,221.41 211.33,220.24 205.00,220.32 C198.67,220.40 190.45,220.57 187.20,219.52 C183.95,218.47 185.73,216.25 185.50,214.00 C185.27,211.75 185.55,209.57 185.80,206.00Z" fill="none" stroke="#111" stroke-width="0.6"/>
<path d="M188.00,206 C187.60,197 188.80,187.60 192.60,187.40 C196.20,187.60 197.40,197 197.60,206" fill="none" stroke="#111" stroke-width="0.5"/>
<path d="M189.25,206 C188.85,197 189.80,188.85 192.60,188.90 C195.20,188.85 196.40,197 196.85,206" fill="none" stroke="#111" stroke-width="0.5"/>
<path d="M190.50,206 C190.10,197 190.80,190.10 192.60,190.40 C194.20,190.10 195.40,197 196.10,206" fill="none" stroke="#111" stroke-width="0.5"/>
<path d="M191.75,206 C191.35,197 191.80,191.35 192.60,191.90 C193.20,191.35 194.40,197 195.35,206" fill="none" stroke="#111" stroke-width="0.5"/>
<path d="M202.00,206 C203.00,196 207.20,184 213.00,175.50" fill="none" stroke="#111" stroke-width="0.55"/>
<path d="M202.81,206 C203.81,196 208.01,184 213.74,175.84" fill="none" stroke="#111" stroke-width="0.55"/>
<path d="M203.62,206 C204.62,196 208.82,184 214.49,176.18" fill="none" stroke="#111" stroke-width="0.55"/>
<path d="M204.43,206 C205.43,196 209.63,184 215.23,176.51" fill="none" stroke="#111" stroke-width="0.55"/>
<path d="M205.24,206 C206.24,196 210.44,184 215.97,176.85" fill="none" stroke="#111" stroke-width="0.55"/>
<path d="M206.05,206 C207.05,196 211.25,184 216.71,177.19" fill="none" stroke="#111" stroke-width="0.55"/>
<path d="M206.86,206 C207.86,196 212.06,184 217.46,177.53" fill="none" stroke="#111" stroke-width="0.55"/>
<path d="M213.80,206 C214.40,196.00 217.00,182.50 219.40,182.20 C221.60,182.50 222.80,196.00 223.20,206" fill="none" stroke="#111" stroke-width="0.5"/>
<path d="M215.30,206 C215.90,197.50 217.90,184.75 219.40,184.60 C220.85,184.75 222.05,197.50 222.30,206" fill="none" stroke="#111" stroke-width="0.5"/>
<path d="M216.80,206 C217.40,199.00 218.80,187.00 219.40,187.00 C220.10,187.00 221.30,199.00 221.40,206" fill="none" stroke="#111" stroke-width="0.5"/>
<path d="M226.60,206 C226.00,196 227.00,189 230.40,179.50" fill="none" stroke="#222" stroke-width="0.5"/>
<path d="M226.12,206 C225.52,196 226.52,189 229.80,179.86" fill="none" stroke="#222" stroke-width="0.5"/>
<path d="M225.64,206 C225.04,196 226.04,189 229.20,180.22" fill="none" stroke="#222" stroke-width="0.5"/>
<path d="M225.16,206 C224.56,196 225.56,189 228.60,180.58" fill="none" stroke="#222" stroke-width="0.5"/>
<path d="M212.40,174.50 C212.72,172.85 214.13,170.00 215.30,168.50 C216.47,167.00 217.87,166.10 219.40,165.50 C220.93,164.90 222.80,164.83 224.50,164.90 C226.20,164.97 228.18,165.22 229.60,165.90 C231.02,166.58 232.47,167.57 233.00,169.00 C233.53,170.43 233.20,172.75 232.80,174.50 C232.40,176.25 231.60,178.15 230.60,179.50 C229.60,180.85 228.32,181.98 226.80,182.60 C225.28,183.22 223.23,183.40 221.50,183.20 C219.77,183.00 217.75,182.20 216.40,181.40 C215.05,180.60 214.07,179.55 213.40,178.40 C212.73,177.25 212.08,176.15 212.40,174.50Z" fill="#a2a2a2" stroke="#0e0e0e" stroke-width="0.9"/>
<path d="M214.26,174.22 C214.53,172.84 215.71,170.46 216.69,169.20 C217.67,167.95 218.84,167.20 220.12,166.69 C221.40,166.19 222.96,166.14 224.39,166.19 C225.81,166.25 227.47,166.46 228.65,167.03 C229.84,167.60 231.05,168.42 231.50,169.62 C231.94,170.82 231.66,172.76 231.33,174.22 C230.99,175.69 230.32,177.27 229.49,178.40 C228.65,179.53 227.58,180.48 226.31,181.00 C225.04,181.51 223.33,181.67 221.88,181.50 C220.43,181.33 218.74,180.66 217.61,179.99 C216.48,179.32 215.66,178.45 215.10,177.48 C214.54,176.52 214.00,175.60 214.26,174.22Z" fill="none" stroke="#151515" stroke-width="0.68"/>
<path d="M215.54,174.03 C215.77,172.84 216.79,170.77 217.64,169.68 C218.48,168.60 219.50,167.94 220.61,167.51 C221.72,167.07 223.08,167.03 224.31,167.07 C225.54,167.12 226.98,167.30 228.00,167.80 C229.03,168.29 230.08,169.01 230.47,170.05 C230.86,171.08 230.61,172.76 230.32,174.03 C230.03,175.30 229.45,176.68 228.73,177.66 C228.00,178.64 227.07,179.46 225.97,179.90 C224.88,180.35 223.39,180.48 222.13,180.34 C220.88,180.19 219.41,179.61 218.44,179.03 C217.46,178.45 216.74,177.69 216.26,176.86 C215.78,176.03 215.31,175.23 215.54,174.03Z" fill="none" stroke="#151515" stroke-width="0.66"/>
<path d="M216.65,173.87 C216.85,172.83 217.74,171.04 218.47,170.10 C219.20,169.16 220.08,168.60 221.04,168.22 C222.00,167.85 223.17,167.80 224.24,167.85 C225.31,167.89 226.55,168.04 227.44,168.47 C228.33,168.90 229.23,169.52 229.57,170.42 C229.90,171.32 229.69,172.77 229.44,173.87 C229.19,174.96 228.69,176.16 228.06,177.00 C227.44,177.85 226.63,178.56 225.68,178.95 C224.73,179.33 223.44,179.45 222.36,179.32 C221.27,179.20 220.01,178.69 219.16,178.19 C218.31,177.69 217.70,177.03 217.28,176.31 C216.86,175.59 216.45,174.90 216.65,173.87Z" fill="none" stroke="#151515" stroke-width="0.64"/>
<path d="M217.67,173.71 C217.84,172.83 218.61,171.30 219.23,170.49 C219.86,169.68 220.61,169.20 221.44,168.88 C222.26,168.56 223.26,168.52 224.18,168.56 C225.09,168.59 226.16,168.73 226.92,169.09 C227.68,169.46 228.46,169.99 228.74,170.76 C229.03,171.53 228.85,172.77 228.64,173.71 C228.42,174.65 227.99,175.67 227.45,176.40 C226.92,177.13 226.23,177.73 225.41,178.07 C224.60,178.40 223.50,178.50 222.56,178.39 C221.63,178.28 220.55,177.85 219.82,177.42 C219.10,176.99 218.57,176.43 218.21,175.81 C217.85,175.19 217.50,174.60 217.67,173.71Z" fill="none" stroke="#151515" stroke-width="0.62"/>
<path d="M218.64,173.57 C218.78,172.82 219.42,171.53 219.95,170.85 C220.48,170.17 221.11,169.76 221.81,169.49 C222.50,169.22 223.35,169.19 224.12,169.22 C224.89,169.25 225.79,169.36 226.43,169.67 C227.07,169.98 227.73,170.43 227.97,171.08 C228.21,171.73 228.06,172.78 227.88,173.57 C227.70,174.36 227.33,175.22 226.88,175.84 C226.43,176.45 225.85,176.96 225.16,177.24 C224.47,177.52 223.54,177.60 222.76,177.51 C221.97,177.42 221.06,177.06 220.45,176.70 C219.84,176.33 219.39,175.86 219.09,175.34 C218.79,174.82 218.49,174.32 218.64,173.57Z" fill="none" stroke="#151515" stroke-width="0.60"/>
<path d="M219.55,173.43 C219.67,172.82 220.20,171.76 220.63,171.20 C221.07,170.64 221.59,170.30 222.16,170.08 C222.73,169.85 223.43,169.83 224.06,169.85 C224.69,169.88 225.43,169.97 225.96,170.23 C226.49,170.48 227.03,170.85 227.23,171.38 C227.43,171.92 227.31,172.78 227.16,173.43 C227.01,174.09 226.71,174.79 226.34,175.30 C225.96,175.80 225.48,176.22 224.92,176.45 C224.35,176.68 223.59,176.75 222.94,176.68 C222.30,176.60 221.54,176.31 221.04,176.01 C220.54,175.71 220.17,175.32 219.92,174.89 C219.67,174.46 219.43,174.05 219.55,173.43Z" fill="none" stroke="#151515" stroke-width="0.58"/>
<path d="M220.43,173.30 C220.52,172.81 220.94,171.97 221.28,171.53 C221.63,171.08 222.04,170.82 222.50,170.64 C222.95,170.46 223.50,170.44 224.01,170.46 C224.51,170.48 225.10,170.56 225.52,170.76 C225.94,170.96 226.37,171.25 226.52,171.68 C226.68,172.10 226.58,172.79 226.46,173.30 C226.35,173.82 226.11,174.38 225.81,174.78 C225.52,175.18 225.14,175.52 224.69,175.70 C224.24,175.88 223.63,175.94 223.12,175.88 C222.61,175.82 222.01,175.58 221.61,175.35 C221.21,175.11 220.92,174.80 220.72,174.46 C220.52,174.12 220.33,173.79 220.43,173.30Z" fill="none" stroke="#151515" stroke-width="0.56"/>
<path d="M221.27,173.18 C221.34,172.81 221.66,172.18 221.91,171.85 C222.17,171.51 222.48,171.31 222.82,171.18 C223.16,171.05 223.58,171.03 223.96,171.05 C224.33,171.06 224.77,171.12 225.09,171.27 C225.40,171.42 225.72,171.64 225.84,171.96 C225.96,172.27 225.89,172.79 225.80,173.18 C225.71,173.57 225.53,173.99 225.31,174.29 C225.09,174.59 224.80,174.84 224.47,174.97 C224.13,175.11 223.67,175.15 223.29,175.11 C222.91,175.06 222.46,174.89 222.16,174.71 C221.86,174.53 221.64,174.30 221.49,174.04 C221.34,173.79 221.20,173.54 221.27,173.18Z" fill="none" stroke="#151515" stroke-width="0.54"/>
<circle cx="224.00" cy="172.50" r="2.52" fill="#d8d8d8"/>
<circle cx="224.00" cy="172.50" r="1.4" fill="#fafafa"/>
<path d="M184.40,212.00 C184.50,209.75 184.13,206.40 185.40,205.00 C186.67,203.60 188.73,203.70 192.00,203.60 C195.27,203.50 200.67,204.40 205.00,204.40 C209.33,204.40 214.50,203.57 218.00,203.60 C221.50,203.63 224.53,203.20 226.00,204.60 C227.47,206.00 226.73,209.68 226.80,212.00 C226.87,214.32 227.20,217.03 226.40,218.50 C225.60,219.97 225.57,220.38 222.00,220.80 C218.43,221.22 210.67,221.00 205.00,221.00 C199.33,221.00 191.37,221.22 188.00,220.80 C184.63,220.38 185.40,219.97 184.80,218.50 C184.20,217.03 184.30,214.25 184.40,212.00Z" fill="#3a3a3a" stroke="#111" stroke-width="0.6"/>
<path d="M186.50,205.80 C195.00,205.00 205.00,206.80 224.50,205.30" fill="none" stroke="#8a8a8a" stroke-width="0.45"/>
<path d="M187.10,207.40 C195.00,206.60 205.00,208.40 223.90,206.90" fill="none" stroke="#8a8a8a" stroke-width="0.45"/>
<path d="M187.70,209.00 C195.00,208.20 205.00,210.00 223.30,208.50" fill="none" stroke="#8a8a8a" stroke-width="0.45"/>
<path d="M185.60,215.50 C185.60,214.03 185.43,211.85 187.00,211.00 C188.57,210.15 192.00,210.42 195.00,210.40 C198.00,210.38 201.67,210.92 205.00,210.90 C208.33,210.88 211.75,210.28 215.00,210.30 C218.25,210.32 222.70,210.13 224.50,211.00 C226.30,211.87 225.80,214.08 225.80,215.50 C225.80,216.92 227.97,218.72 224.50,219.50 C221.03,220.28 211.25,220.15 205.00,220.20 C198.75,220.25 190.23,220.58 187.00,219.80 C183.77,219.02 185.60,216.97 185.60,215.50Z" fill="#1e1e1e" stroke="none"/>
<line x1="190.2" y1="215.1" x2="217" y2="215.1" stroke="#f4f4f4" stroke-width="0.85" stroke-dasharray="2.4 1.4"/>
<line x1="313.00" y1="27.20" x2="313.00" y2="98.00" stroke="#1a1a1a" stroke-width="1.3" />
<line x1="310.60" y1="97.40" x2="313.00" y2="97.40" stroke="#1a1a1a" stroke-width="0.9" />
<text x="306.70" y="99.45" font-size="6.2" text-anchor="end" font-weight="normal" fill="#1a1a1a"  style="">0</text>
<line x1="310.60" y1="83.80" x2="313.00" y2="83.80" stroke="#1a1a1a" stroke-width="0.9" />
<text x="306.70" y="85.85" font-size="6.2" text-anchor="end" font-weight="normal" fill="#1a1a1a"  style="">20</text>
<line x1="310.60" y1="70.20" x2="313.00" y2="70.20" stroke="#1a1a1a" stroke-width="0.9" />
<text x="306.70" y="72.25" font-size="6.2" text-anchor="end" font-weight="normal" fill="#1a1a1a"  style="">40</text>
<line x1="310.60" y1="56.60" x2="313.00" y2="56.60" stroke="#1a1a1a" stroke-width="0.9" />
<text x="306.70" y="58.65" font-size="6.2" text-anchor="end" font-weight="normal" fill="#1a1a1a"  style="">60</text>
<line x1="310.60" y1="43.00" x2="313.00" y2="43.00" stroke="#1a1a1a" stroke-width="0.9" />
<text x="306.70" y="45.05" font-size="6.2" text-anchor="end" font-weight="normal" fill="#1a1a1a"  style="">80</text>
<line x1="310.60" y1="29.40" x2="313.00" y2="29.40" stroke="#1a1a1a" stroke-width="0.9" />
<text x="306.70" y="31.45" font-size="6.2" text-anchor="end" font-weight="normal" fill="#1a1a1a"  style="">100</text>
<line x1="313.00" y1="97.40" x2="348.20" y2="97.40" stroke="#1a1a1a" stroke-width="1.2" />
<text x="330.65" y="106.80" font-size="6.5" text-anchor="middle" font-weight="normal" fill="#1a1a1a" textLength="10.5" lengthAdjust="spacingAndGlyphs"  style="">TFH</text>
<text transform="translate(290.81,60.80) rotate(-90)" x="0" y="0" font-size="6.6" text-anchor="middle" font-weight="normal" fill="#1a1a1a" textLength="56.2" lengthAdjust="spacingAndGlyphs">T cell subset (%CD4+)</text>
<line x1="385.00" y1="27.20" x2="385.00" y2="98.00" stroke="#1a1a1a" stroke-width="1.3" />
<line x1="382.60" y1="97.40" x2="385.00" y2="97.40" stroke="#1a1a1a" stroke-width="0.9" />
<text x="378.40" y="99.45" font-size="6.2" text-anchor="end" font-weight="normal" fill="#1a1a1a"  style="">0</text>
<line x1="382.60" y1="83.80" x2="385.00" y2="83.80" stroke="#1a1a1a" stroke-width="0.9" />
<text x="378.40" y="85.85" font-size="6.2" text-anchor="end" font-weight="normal" fill="#1a1a1a"  style="">20</text>
<line x1="382.60" y1="70.20" x2="385.00" y2="70.20" stroke="#1a1a1a" stroke-width="0.9" />
<text x="378.40" y="72.25" font-size="6.2" text-anchor="end" font-weight="normal" fill="#1a1a1a"  style="">40</text>
<line x1="382.60" y1="56.60" x2="385.00" y2="56.60" stroke="#1a1a1a" stroke-width="0.9" />
<text x="378.40" y="58.65" font-size="6.2" text-anchor="end" font-weight="normal" fill="#1a1a1a"  style="">60</text>
<line x1="382.60" y1="43.00" x2="385.00" y2="43.00" stroke="#1a1a1a" stroke-width="0.9" />
<text x="378.40" y="45.05" font-size="6.2" text-anchor="end" font-weight="normal" fill="#1a1a1a"  style="">80</text>
<line x1="382.60" y1="29.40" x2="385.00" y2="29.40" stroke="#1a1a1a" stroke-width="0.9" />
<text x="378.40" y="31.45" font-size="6.2" text-anchor="end" font-weight="normal" fill="#1a1a1a"  style="">100</text>
<line x1="385.00" y1="97.40" x2="513.00" y2="97.40" stroke="#1a1a1a" stroke-width="1.2" />
<line x1="416.40" y1="97.40" x2="416.40" y2="99.40" stroke="#1a1a1a" stroke-width="0.8" />
<line x1="449.30" y1="97.40" x2="449.30" y2="99.40" stroke="#1a1a1a" stroke-width="0.8" />
<line x1="481.30" y1="97.40" x2="481.30" y2="99.40" stroke="#1a1a1a" stroke-width="0.8" />
<text x="400.90" y="108.60" font-size="6.4" text-anchor="middle" font-weight="normal" fill="#1a1a1a" textLength="13.8" lengthAdjust="spacingAndGlyphs"  style="">Naive</text>
<text x="432.75" y="108.60" font-size="6.4" text-anchor="middle" font-weight="normal" fill="#1a1a1a" textLength="9.3" lengthAdjust="spacingAndGlyphs"  style="">CM</text>
<text x="465.00" y="108.60" font-size="6.4" text-anchor="middle" font-weight="normal" fill="#1a1a1a" textLength="19.6" lengthAdjust="spacingAndGlyphs"  style="">TEMRA</text>
<text x="497.60" y="108.60" font-size="6.4" text-anchor="middle" font-weight="normal" fill="#1a1a1a" textLength="8.6" lengthAdjust="spacingAndGlyphs"  style="">EM</text>
<text transform="translate(363.11,62.30) rotate(-90)" x="0" y="0" font-size="6.6" text-anchor="middle" font-weight="normal" fill="#1a1a1a" textLength="78" lengthAdjust="spacingAndGlyphs">T cell subsets (%CD4+CXCR5&#8722;)</text>
<circle cx="320.50" cy="86.20" r="1.45" fill="#3399c0"/>
<circle cx="323.20" cy="85.50" r="1.45" fill="#3399c0"/>
<circle cx="326.00" cy="86.50" r="1.45" fill="#3399c0"/>
<circle cx="321.00" cy="88.50" r="1.45" fill="#3399c0"/>
<circle cx="325.00" cy="88.80" r="1.45" fill="#3399c0"/>
<circle cx="323.00" cy="90.50" r="1.45" fill="#3399c0"/>
<circle cx="321.80" cy="91.50" r="1.45" fill="#3399c0"/>
<circle cx="324.60" cy="91.20" r="1.45" fill="#3399c0"/>
<circle cx="320.20" cy="89.70" r="1.45" fill="#3399c0"/>
<circle cx="326.50" cy="84.80" r="1.45" fill="#3399c0"/>
<circle cx="338.40" cy="62.50" r="1.45" fill="#a8173d"/>
<circle cx="335.50" cy="73.50" r="1.45" fill="#a8173d"/>
<circle cx="340.50" cy="74.50" r="1.45" fill="#a8173d"/>
<circle cx="337.20" cy="77.00" r="1.45" fill="#a8173d"/>
<circle cx="341.50" cy="79.50" r="1.45" fill="#a8173d"/>
<circle cx="335.00" cy="80.50" r="1.45" fill="#a8173d"/>
<circle cx="339.50" cy="83.50" r="1.45" fill="#a8173d"/>
<circle cx="336.20" cy="85.50" r="1.45" fill="#a8173d"/>
<circle cx="342.00" cy="87.00" r="1.45" fill="#a8173d"/>
<circle cx="337.50" cy="90.00" r="1.45" fill="#a8173d"/>
<circle cx="335.80" cy="94.00" r="1.45" fill="#a8173d"/>
<line x1="323.50" y1="85.50" x2="323.50" y2="92.50" stroke="#1a1a1a" stroke-width="1.1" />
<line x1="319.00" y1="88.50" x2="328.00" y2="88.50" stroke="#1a1a1a" stroke-width="1.1" />
<line x1="321.30" y1="85.50" x2="325.70" y2="85.50" stroke="#1a1a1a" stroke-width="1.1" />
<line x1="321.30" y1="92.50" x2="325.70" y2="92.50" stroke="#1a1a1a" stroke-width="1.1" />
<line x1="338.50" y1="69.50" x2="338.50" y2="88.50" stroke="#1a1a1a" stroke-width="1.1" />
<line x1="333.20" y1="79.50" x2="343.80" y2="79.50" stroke="#1a1a1a" stroke-width="1.1" />
<line x1="336.30" y1="69.50" x2="340.70" y2="69.50" stroke="#1a1a1a" stroke-width="1.1" />
<line x1="336.30" y1="88.50" x2="340.70" y2="88.50" stroke="#1a1a1a" stroke-width="1.1" />
<path d="M321.30,55.30 L321.30,51.70 L338.40,51.70 L338.40,55.30" fill="none" stroke="#222" stroke-width="1.0"/>
<text x="328.41" y="51.00" font-size="7.4" font-weight="bold" fill="#111" letter-spacing="0.9">*</text>
<circle cx="392.50" cy="42.50" r="1.45" fill="#3399c0"/>
<circle cx="396.50" cy="42.50" r="1.45" fill="#3399c0"/>
<circle cx="394.60" cy="44.20" r="1.45" fill="#3399c0"/>
<circle cx="393.00" cy="46.00" r="1.45" fill="#3399c0"/>
<circle cx="396.20" cy="46.30" r="1.45" fill="#3399c0"/>
<circle cx="394.60" cy="48.00" r="1.45" fill="#3399c0"/>
<circle cx="392.80" cy="49.60" r="1.45" fill="#3399c0"/>
<circle cx="396.40" cy="51.50" r="1.45" fill="#3399c0"/>
<circle cx="396.30" cy="60.70" r="1.45" fill="#3399c0"/>
<circle cx="392.30" cy="64.20" r="1.45" fill="#3399c0"/>
<circle cx="408.50" cy="45.00" r="1.45" fill="#a8173d"/>
<circle cx="407.70" cy="53.70" r="1.45" fill="#a8173d"/>
<circle cx="406.00" cy="62.50" r="1.45" fill="#a8173d"/>
<circle cx="411.00" cy="62.50" r="1.45" fill="#a8173d"/>
<circle cx="408.20" cy="65.50" r="1.45" fill="#a8173d"/>
<circle cx="405.00" cy="69.40" r="1.45" fill="#a8173d"/>
<circle cx="411.50" cy="69.40" r="1.45" fill="#a8173d"/>
<circle cx="406.80" cy="76.30" r="1.45" fill="#a8173d"/>
<circle cx="409.80" cy="77.00" r="1.45" fill="#a8173d"/>
<circle cx="408.30" cy="81.60" r="1.45" fill="#a8173d"/>
<circle cx="408.70" cy="86.30" r="1.45" fill="#a8173d"/>
<line x1="394.50" y1="42.50" x2="394.50" y2="57.50" stroke="#1a1a1a" stroke-width="1.1" />
<line x1="390.90" y1="49.50" x2="398.10" y2="49.50" stroke="#1a1a1a" stroke-width="1.1" />
<line x1="392.30" y1="42.50" x2="396.70" y2="42.50" stroke="#1a1a1a" stroke-width="1.1" />
<line x1="392.30" y1="57.50" x2="396.70" y2="57.50" stroke="#1a1a1a" stroke-width="1.1" />
<line x1="408.50" y1="57.50" x2="408.50" y2="80.50" stroke="#1a1a1a" stroke-width="1.1" />
<line x1="404.20" y1="69.50" x2="412.80" y2="69.50" stroke="#1a1a1a" stroke-width="1.1" />
<line x1="406.30" y1="57.50" x2="410.70" y2="57.50" stroke="#1a1a1a" stroke-width="1.1" />
<line x1="406.30" y1="80.50" x2="410.70" y2="80.50" stroke="#1a1a1a" stroke-width="1.1" />
<path d="M393.40,37.40 L393.40,33.40 L408.20,33.40 L408.20,37.40" fill="none" stroke="#222" stroke-width="1.0"/>
<text x="397.49" y="33.90" font-size="7.4" font-weight="bold" fill="#111" letter-spacing="0.9">**</text>
<circle cx="426.50" cy="69.80" r="1.45" fill="#3399c0"/>
<circle cx="423.50" cy="78.50" r="1.45" fill="#3399c0"/>
<circle cx="428.50" cy="78.30" r="1.45" fill="#3399c0"/>
<circle cx="425.00" cy="81.50" r="1.45" fill="#3399c0"/>
<circle cx="427.80" cy="82.50" r="1.45" fill="#3399c0"/>
<circle cx="424.20" cy="84.20" r="1.45" fill="#3399c0"/>
<circle cx="426.50" cy="85.50" r="1.45" fill="#3399c0"/>
<circle cx="428.20" cy="86.80" r="1.45" fill="#3399c0"/>
<circle cx="425.20" cy="87.60" r="1.45" fill="#3399c0"/>
<circle cx="426.80" cy="88.80" r="1.45" fill="#3399c0"/>
<circle cx="438.60" cy="52.30" r="1.45" fill="#a8173d"/>
<circle cx="441.60" cy="51.60" r="1.45" fill="#a8173d"/>
<circle cx="439.60" cy="58.50" r="1.45" fill="#a8173d"/>
<circle cx="441.30" cy="62.50" r="1.45" fill="#a8173d"/>
<circle cx="438.00" cy="66.20" r="1.45" fill="#a8173d"/>
<circle cx="440.80" cy="70.50" r="1.45" fill="#a8173d"/>
<circle cx="439.00" cy="76.00" r="1.45" fill="#a8173d"/>
<circle cx="441.80" cy="79.20" r="1.45" fill="#a8173d"/>
<circle cx="438.50" cy="84.00" r="1.45" fill="#a8173d"/>
<circle cx="440.20" cy="88.50" r="1.45" fill="#a8173d"/>
<circle cx="440.40" cy="94.30" r="1.45" fill="#a8173d"/>
<line x1="426.50" y1="76.50" x2="426.50" y2="88.50" stroke="#1a1a1a" stroke-width="1.1" />
<line x1="422.90" y1="82.50" x2="430.10" y2="82.50" stroke="#1a1a1a" stroke-width="1.1" />
<line x1="424.30" y1="76.50" x2="428.70" y2="76.50" stroke="#1a1a1a" stroke-width="1.1" />
<line x1="424.30" y1="88.50" x2="428.70" y2="88.50" stroke="#1a1a1a" stroke-width="1.1" />
<line x1="440.50" y1="58.50" x2="440.50" y2="86.50" stroke="#1a1a1a" stroke-width="1.1" />
<line x1="436.20" y1="72.50" x2="444.80" y2="72.50" stroke="#1a1a1a" stroke-width="1.1" />
<line x1="438.30" y1="58.50" x2="442.70" y2="58.50" stroke="#1a1a1a" stroke-width="1.1" />
<line x1="438.30" y1="86.50" x2="442.70" y2="86.50" stroke="#1a1a1a" stroke-width="1.1" />
<circle cx="455.50" cy="96.10" r="1.1" fill="#3399c0"/>
<circle cx="457.00" cy="96.30" r="1.1" fill="#3399c0"/>
<circle cx="458.60" cy="96.00" r="1.1" fill="#3399c0"/>
<circle cx="460.00" cy="96.30" r="1.1" fill="#3399c0"/>
<circle cx="456.20" cy="95.60" r="1.1" fill="#3399c0"/>
<circle cx="459.20" cy="95.50" r="1.1" fill="#3399c0"/>
<circle cx="457.80" cy="95.40" r="1.1" fill="#3399c0"/>
<circle cx="468.50" cy="89.50" r="1.45" fill="#a8173d"/>
<circle cx="473.50" cy="89.30" r="1.45" fill="#a8173d"/>
<circle cx="471.00" cy="91.50" r="1.45" fill="#a8173d"/>
<circle cx="468.80" cy="93.40" r="1.45" fill="#a8173d"/>
<circle cx="473.80" cy="93.30" r="1.45" fill="#a8173d"/>
<circle cx="471.20" cy="95.20" r="1.45" fill="#a8173d"/>
<circle cx="469.50" cy="96.00" r="1.45" fill="#a8173d"/>
<circle cx="472.90" cy="96.10" r="1.45" fill="#a8173d"/>
<circle cx="471.20" cy="93.50" r="1.45" fill="#a8173d"/>
<circle cx="470.00" cy="91.50" r="1.45" fill="#a8173d"/>
<circle cx="472.50" cy="91.80" r="1.45" fill="#a8173d"/>
<line x1="454.50" y1="96.20" x2="461.50" y2="96.20" stroke="#1a1a1a" stroke-width="0.8" />
<line x1="471.50" y1="90.50" x2="471.50" y2="95.50" stroke="#1a1a1a" stroke-width="1.1" />
<line x1="467.20" y1="93.50" x2="475.80" y2="93.50" stroke="#1a1a1a" stroke-width="1.1" />
<line x1="469.30" y1="90.50" x2="473.70" y2="90.50" stroke="#1a1a1a" stroke-width="1.1" />
<line x1="469.30" y1="95.50" x2="473.70" y2="95.50" stroke="#1a1a1a" stroke-width="1.1" />
<path d="M457.40,84.90 L457.40,81.20 L471.60,81.20 L471.60,84.90" fill="none" stroke="#222" stroke-width="1.0"/>
<text x="461.19" y="81.70" font-size="7.4" font-weight="bold" fill="#111" letter-spacing="0.9">**</text>
<circle cx="492.40" cy="87.20" r="1.45" fill="#3399c0"/>
<circle cx="487.00" cy="89.50" r="1.45" fill="#3399c0"/>
<circle cx="489.40" cy="90.00" r="1.45" fill="#3399c0"/>
<circle cx="491.40" cy="89.60" r="1.45" fill="#3399c0"/>
<circle cx="487.80" cy="91.60" r="1.45" fill="#3399c0"/>
<circle cx="490.80" cy="92.00" r="1.45" fill="#3399c0"/>
<circle cx="488.50" cy="93.60" r="1.45" fill="#3399c0"/>
<circle cx="490.20" cy="94.20" r="1.45" fill="#3399c0"/>
<circle cx="489.40" cy="95.00" r="1.45" fill="#3399c0"/>
<circle cx="491.50" cy="91.00" r="1.45" fill="#3399c0"/>
<circle cx="501.60" cy="75.60" r="1.45" fill="#a8173d"/>
<circle cx="505.20" cy="79.00" r="1.45" fill="#a8173d"/>
<circle cx="500.50" cy="81.60" r="1.45" fill="#a8173d"/>
<circle cx="506.50" cy="81.50" r="1.45" fill="#a8173d"/>
<circle cx="503.50" cy="83.30" r="1.45" fill="#a8173d"/>
<circle cx="501.00" cy="85.80" r="1.45" fill="#a8173d"/>
<circle cx="505.50" cy="86.00" r="1.45" fill="#a8173d"/>
<circle cx="502.20" cy="89.50" r="1.45" fill="#a8173d"/>
<circle cx="504.80" cy="90.20" r="1.45" fill="#a8173d"/>
<circle cx="502.00" cy="92.80" r="1.45" fill="#a8173d"/>
<circle cx="505.00" cy="93.00" r="1.45" fill="#a8173d"/>
<line x1="489.50" y1="88.50" x2="489.50" y2="94.50" stroke="#1a1a1a" stroke-width="1.1" />
<line x1="485.90" y1="91.50" x2="493.10" y2="91.50" stroke="#1a1a1a" stroke-width="1.1" />
<line x1="487.30" y1="88.50" x2="491.70" y2="88.50" stroke="#1a1a1a" stroke-width="1.1" />
<line x1="487.30" y1="94.50" x2="491.70" y2="94.50" stroke="#1a1a1a" stroke-width="1.1" />
<line x1="503.50" y1="79.50" x2="503.50" y2="92.50" stroke="#1a1a1a" stroke-width="1.1" />
<line x1="499.20" y1="85.50" x2="507.80" y2="85.50" stroke="#1a1a1a" stroke-width="1.1" />
<line x1="501.30" y1="79.50" x2="505.70" y2="79.50" stroke="#1a1a1a" stroke-width="1.1" />
<line x1="501.30" y1="92.50" x2="505.70" y2="92.50" stroke="#1a1a1a" stroke-width="1.1" />
<path d="M488.70,72.10 L488.70,68.20 L503.50,68.20 L503.50,72.10" fill="none" stroke="#222" stroke-width="1.0"/>
<text x="492.79" y="68.20" font-size="7.4" font-weight="bold" fill="#111" letter-spacing="0.9">**</text>
<circle cx="439.70" cy="21.60" r="1.2" fill="#3399c0"/>
<text x="443.90" y="23.70" font-size="5.95" text-anchor="start" font-weight="normal" fill="#1a1a1a" textLength="65.1" lengthAdjust="spacingAndGlyphs"  style="">Healthy controls (n = 10)</text>
<circle cx="439.70" cy="31.10" r="1.2" fill="#a8173d"/>
<text x="443.90" y="33.20" font-size="5.95" text-anchor="start" font-weight="normal" fill="#1a1a1a" textLength="69.7" lengthAdjust="spacingAndGlyphs"  style="">CTLA4 deficiency (n = 11)</text>
<line x1="313.10" y1="137.30" x2="313.10" y2="207.40" stroke="#1a1a1a" stroke-width="1.3" />
<line x1="313.10" y1="206.80" x2="414.30" y2="206.80" stroke="#1a1a1a" stroke-width="1.2" />
<line x1="310.60" y1="206.80" x2="313.10" y2="206.80" stroke="#1a1a1a" stroke-width="0.9" />
<text x="306.90" y="208.95" font-size="6.2" text-anchor="end" font-weight="normal" fill="#1a1a1a"  style="">0</text>
<line x1="313.00" y1="206.80" x2="313.00" y2="208.80" stroke="#1a1a1a" stroke-width="0.8" />
<text x="313.00" y="218.90" font-size="6.0" text-anchor="middle" font-weight="normal" fill="#1a1a1a"  style="">0</text>
<line x1="310.60" y1="193.40" x2="313.10" y2="193.40" stroke="#1a1a1a" stroke-width="0.9" />
<text x="306.90" y="195.55" font-size="6.2" text-anchor="end" font-weight="normal" fill="#1a1a1a"  style="">20</text>
<line x1="332.30" y1="206.80" x2="332.30" y2="208.80" stroke="#1a1a1a" stroke-width="0.8" />
<text x="332.30" y="218.90" font-size="6.0" text-anchor="middle" font-weight="normal" fill="#1a1a1a"  style="">20</text>
<line x1="310.60" y1="180.00" x2="313.10" y2="180.00" stroke="#1a1a1a" stroke-width="0.9" />
<text x="306.90" y="182.15" font-size="6.2" text-anchor="end" font-weight="normal" fill="#1a1a1a"  style="">40</text>
<line x1="351.60" y1="206.80" x2="351.60" y2="208.80" stroke="#1a1a1a" stroke-width="0.8" />
<text x="351.60" y="218.90" font-size="6.0" text-anchor="middle" font-weight="normal" fill="#1a1a1a"  style="">40</text>
<line x1="310.60" y1="166.60" x2="313.10" y2="166.60" stroke="#1a1a1a" stroke-width="0.9" />
<text x="306.90" y="168.75" font-size="6.2" text-anchor="end" font-weight="normal" fill="#1a1a1a"  style="">60</text>
<line x1="370.90" y1="206.80" x2="370.90" y2="208.80" stroke="#1a1a1a" stroke-width="0.8" />
<text x="370.90" y="218.90" font-size="6.0" text-anchor="middle" font-weight="normal" fill="#1a1a1a"  style="">60</text>
<line x1="310.60" y1="153.20" x2="313.10" y2="153.20" stroke="#1a1a1a" stroke-width="0.9" />
<text x="306.90" y="155.35" font-size="6.2" text-anchor="end" font-weight="normal" fill="#1a1a1a"  style="">80</text>
<line x1="390.20" y1="206.80" x2="390.20" y2="208.80" stroke="#1a1a1a" stroke-width="0.8" />
<text x="390.20" y="218.90" font-size="6.0" text-anchor="middle" font-weight="normal" fill="#1a1a1a"  style="">80</text>
<line x1="310.60" y1="139.80" x2="313.10" y2="139.80" stroke="#1a1a1a" stroke-width="0.9" />
<text x="306.90" y="141.95" font-size="6.2" text-anchor="end" font-weight="normal" fill="#1a1a1a"  style="">100</text>
<line x1="409.50" y1="206.80" x2="409.50" y2="208.80" stroke="#1a1a1a" stroke-width="0.8" />
<text x="409.50" y="218.90" font-size="6.0" text-anchor="middle" font-weight="normal" fill="#1a1a1a"  style="">100</text>
<text transform="translate(281.49,172.10) rotate(-90)" x="0" y="0" font-size="7.4" text-anchor="middle" font-weight="normal" stroke="#1a1a1a" stroke-width="0.2" fill="#1a1a1a" textLength="47.4" lengthAdjust="spacingAndGlyphs">Naive CD4+ T cells</text>
<text transform="translate(290.59,171.80) rotate(-90)" x="0" y="0" font-size="7.4" text-anchor="middle" font-weight="normal" stroke="#1a1a1a" stroke-width="0.2" fill="#1a1a1a" textLength="43.9" lengthAdjust="spacingAndGlyphs">(%CD4+CXCR5&#8722;)</text>
<text x="363.00" y="229.70" font-size="7.6" text-anchor="middle" font-weight="normal" stroke="#1a1a1a" stroke-width="0.2" fill="#1a1a1a" textLength="25" lengthAdjust="spacingAndGlyphs"  style="">FO B cells</text>
<text x="362.90" y="239.00" font-size="7.4" text-anchor="middle" font-weight="normal" stroke="#1a1a1a" stroke-width="0.2" fill="#1a1a1a" textLength="75" lengthAdjust="spacingAndGlyphs"  style="">(MTG-CD10&#8722; as %IgD+CD27&#8722;)</text>
<polyline points="329.40,182.34 396.95,158.56" fill="none" stroke="#1a1a1a" stroke-width="0.9"/>
<polyline points="329.40,170.31 331.33,170.12 333.26,169.92 335.19,169.72 337.12,169.50 339.06,169.27 340.99,169.02 342.92,168.76 344.85,168.47 346.77,168.16 348.70,167.83 350.63,167.47 352.56,167.07 354.50,166.63 356.43,166.15 358.36,165.63 360.28,165.06 362.21,164.43 364.14,163.75 366.07,163.02 368.00,162.23 369.94,161.40 371.87,160.52 373.80,159.59 375.73,158.63 377.65,157.64 379.58,156.61 381.51,155.56 383.44,154.48 385.38,153.39 387.31,152.28 389.24,151.15 391.16,150.01 393.10,148.86 395.02,147.69 396.95,146.52" fill="none" stroke="#1a1a1a" stroke-width="1.0" stroke-dasharray="1.2 0.8"/>
<polyline points="329.40,194.38 331.33,193.21 333.26,192.05 335.19,190.90 337.12,189.75 339.06,188.63 340.99,187.52 342.92,186.42 344.85,185.35 346.77,184.29 348.70,183.27 350.63,182.27 352.56,181.31 354.50,180.39 356.43,179.51 358.36,178.67 360.28,177.89 362.21,177.16 364.14,176.48 366.07,175.85 368.00,175.28 369.94,174.75 371.87,174.27 373.80,173.84 375.73,173.44 377.65,173.08 379.58,172.74 381.51,172.43 383.44,172.15 385.38,171.89 387.31,171.64 389.24,171.41 391.16,171.19 393.10,170.98 395.02,170.78 396.95,170.60" fill="none" stroke="#1a1a1a" stroke-width="1.0" stroke-dasharray="1.2 0.8"/>
<circle cx="329.02" cy="172.63" r="1.45" fill="#a8173d"/>
<circle cx="330.08" cy="196.62" r="1.45" fill="#a8173d"/>
<circle cx="334.13" cy="164.25" r="1.45" fill="#a8173d"/>
<circle cx="335.87" cy="155.61" r="1.45" fill="#a8173d"/>
<circle cx="344.75" cy="188.44" r="1.45" fill="#a8173d"/>
<circle cx="347.55" cy="184.49" r="1.45" fill="#a8173d"/>
<circle cx="352.76" cy="188.17" r="1.45" fill="#a8173d"/>
<circle cx="357.39" cy="190.99" r="1.45" fill="#a8173d"/>
<circle cx="361.35" cy="181.68" r="1.45" fill="#a8173d"/>
<circle cx="363.08" cy="180.74" r="1.45" fill="#a8173d"/>
<circle cx="370.61" cy="173.03" r="1.45" fill="#a8173d"/>
<circle cx="371.87" cy="155.21" r="1.45" fill="#3399c0"/>
<circle cx="373.31" cy="158.56" r="1.45" fill="#3399c0"/>
<circle cx="374.28" cy="153.20" r="1.45" fill="#3399c0"/>
<circle cx="373.60" cy="173.97" r="1.45" fill="#3399c0"/>
<circle cx="373.31" cy="179.73" r="1.45" fill="#3399c0"/>
<circle cx="381.51" cy="155.88" r="1.45" fill="#3399c0"/>
<circle cx="383.44" cy="155.55" r="1.45" fill="#3399c0"/>
<circle cx="382.96" cy="163.92" r="1.45" fill="#3399c0"/>
<circle cx="396.95" cy="159.03" r="1.45" fill="#3399c0"/>
<circle cx="372.35" cy="157.22" r="1.45" fill="#3399c0"/>
<line x1="414.80" y1="140.00" x2="421.20" y2="140.00" stroke="#1a1a1a" stroke-width="0.9" />
<path d="M416.8,140 L418,138.8 L419.2,140 L418,141.2Z" fill="#1a1a1a"/>
<text x="424.4" y="142.5" font-size="6.2" fill="#1a1a1a"><tspan font-style="italic">P</tspan> = .0252</text>
<text x="417.4" y="152.0" font-size="6.2" fill="#1a1a1a">R<tspan font-size="3.8" dy="-2.6">2</tspan><tspan dy="2.6"> = 0.2371</tspan></text>
<text x="89.60" y="287.20" font-size="7.8" text-anchor="middle" font-weight="normal" fill="#1a1a1a"  style="">CD40L (total cellular levels)</text>
<text x="89.60" y="297.50" font-size="7.8" text-anchor="middle" font-weight="normal" fill="#1a1a1a"  style="">assayed unstimulated TEMRA</text>
<text x="89.60" y="307.80" font-size="7.8" text-anchor="middle" font-weight="normal" fill="#1a1a1a"  style="">CD4+ T cells</text>
<rect x="36.4" y="312.6" width="107.70" height="79.70" fill="none" stroke="#1a1a1a" stroke-width="1.2"/>
<line x1="33.80" y1="392.30" x2="36.40" y2="392.30" stroke="#1a1a1a" stroke-width="0.9" />
<text x="30.00" y="394.30" font-size="5.8" text-anchor="end" font-weight="normal" fill="#1a1a1a"  style="">0</text>
<line x1="33.80" y1="377.06" x2="36.40" y2="377.06" stroke="#1a1a1a" stroke-width="0.9" />
<text x="30.00" y="379.06" font-size="5.8" text-anchor="end" font-weight="normal" fill="#1a1a1a"  style="">20</text>
<line x1="33.80" y1="361.82" x2="36.40" y2="361.82" stroke="#1a1a1a" stroke-width="0.9" />
<text x="30.00" y="363.82" font-size="5.8" text-anchor="end" font-weight="normal" fill="#1a1a1a"  style="">40</text>
<line x1="33.80" y1="346.58" x2="36.40" y2="346.58" stroke="#1a1a1a" stroke-width="0.9" />
<text x="30.00" y="348.58" font-size="5.8" text-anchor="end" font-weight="normal" fill="#1a1a1a"  style="">60</text>
<line x1="33.80" y1="331.34" x2="36.40" y2="331.34" stroke="#1a1a1a" stroke-width="0.9" />
<text x="30.00" y="333.34" font-size="5.8" text-anchor="end" font-weight="normal" fill="#1a1a1a"  style="">80</text>
<line x1="33.80" y1="316.10" x2="36.40" y2="316.10" stroke="#1a1a1a" stroke-width="0.9" />
<text x="30.00" y="318.10" font-size="5.8" text-anchor="end" font-weight="normal" fill="#1a1a1a"  style="">100</text>
<line x1="35.00" y1="388.49" x2="36.40" y2="388.49" stroke="#1a1a1a" stroke-width="0.7" />
<line x1="35.00" y1="380.87" x2="36.40" y2="380.87" stroke="#1a1a1a" stroke-width="0.7" />
<line x1="35.00" y1="373.25" x2="36.40" y2="373.25" stroke="#1a1a1a" stroke-width="0.7" />
<line x1="35.00" y1="365.63" x2="36.40" y2="365.63" stroke="#1a1a1a" stroke-width="0.7" />
<line x1="35.00" y1="358.01" x2="36.40" y2="358.01" stroke="#1a1a1a" stroke-width="0.7" />
<line x1="35.00" y1="350.39" x2="36.40" y2="350.39" stroke="#1a1a1a" stroke-width="0.7" />
<line x1="35.00" y1="342.77" x2="36.40" y2="342.77" stroke="#1a1a1a" stroke-width="0.7" />
<line x1="35.00" y1="335.15" x2="36.40" y2="335.15" stroke="#1a1a1a" stroke-width="0.7" />
<line x1="35.00" y1="327.53" x2="36.40" y2="327.53" stroke="#1a1a1a" stroke-width="0.7" />
<line x1="35.00" y1="319.91" x2="36.40" y2="319.91" stroke="#1a1a1a" stroke-width="0.7" />
<text x="41.30" y="403.9" font-size="5.8" text-anchor="middle" fill="#1a1a1a">&#8722;10<tspan font-size="3.6" dy="-2.8">3</tspan></text>
<line x1="42.30" y1="392.30" x2="42.30" y2="394.90" stroke="#1a1a1a" stroke-width="0.9" />
<text x="62.50" y="403.90" font-size="5.8" text-anchor="middle" font-weight="normal" fill="#1a1a1a"  style="">0</text>
<line x1="62.50" y1="392.30" x2="62.50" y2="394.90" stroke="#1a1a1a" stroke-width="0.9" />
<text x="78.00" y="403.9" font-size="5.8" text-anchor="middle" fill="#1a1a1a">10<tspan font-size="3.6" dy="-2.8">3</tspan></text>
<line x1="79.00" y1="392.30" x2="79.00" y2="394.90" stroke="#1a1a1a" stroke-width="0.9" />
<text x="106.80" y="403.9" font-size="5.8" text-anchor="middle" fill="#1a1a1a">10<tspan font-size="3.6" dy="-2.8">4</tspan></text>
<line x1="107.80" y1="392.30" x2="107.80" y2="394.90" stroke="#1a1a1a" stroke-width="0.9" />
<text x="131.50" y="403.9" font-size="5.8" text-anchor="middle" fill="#1a1a1a">10<tspan font-size="3.6" dy="-2.8">5</tspan></text>
<line x1="132.50" y1="392.30" x2="132.50" y2="394.90" stroke="#1a1a1a" stroke-width="0.9" />
<line x1="87.67" y1="392.30" x2="87.67" y2="393.90" stroke="#1a1a1a" stroke-width="0.6" />
<line x1="92.74" y1="392.30" x2="92.74" y2="393.90" stroke="#1a1a1a" stroke-width="0.6" />
<line x1="96.34" y1="392.30" x2="96.34" y2="393.90" stroke="#1a1a1a" stroke-width="0.6" />
<line x1="99.13" y1="392.30" x2="99.13" y2="393.90" stroke="#1a1a1a" stroke-width="0.6" />
<line x1="101.41" y1="392.30" x2="101.41" y2="393.90" stroke="#1a1a1a" stroke-width="0.6" />
<line x1="103.34" y1="392.30" x2="103.34" y2="393.90" stroke="#1a1a1a" stroke-width="0.6" />
<line x1="105.01" y1="392.30" x2="105.01" y2="393.90" stroke="#1a1a1a" stroke-width="0.6" />
<line x1="106.48" y1="392.30" x2="106.48" y2="393.90" stroke="#1a1a1a" stroke-width="0.6" />
<line x1="116.47" y1="392.30" x2="116.47" y2="393.90" stroke="#1a1a1a" stroke-width="0.6" />
<line x1="121.54" y1="392.30" x2="121.54" y2="393.90" stroke="#1a1a1a" stroke-width="0.6" />
<line x1="125.14" y1="392.30" x2="125.14" y2="393.90" stroke="#1a1a1a" stroke-width="0.6" />
<line x1="127.93" y1="392.30" x2="127.93" y2="393.90" stroke="#1a1a1a" stroke-width="0.6" />
<line x1="130.21" y1="392.30" x2="130.21" y2="393.90" stroke="#1a1a1a" stroke-width="0.6" />
<line x1="132.14" y1="392.30" x2="132.14" y2="393.90" stroke="#1a1a1a" stroke-width="0.6" />
<line x1="133.81" y1="392.30" x2="133.81" y2="393.90" stroke="#1a1a1a" stroke-width="0.6" />
<line x1="135.28" y1="392.30" x2="135.28" y2="393.90" stroke="#1a1a1a" stroke-width="0.6" />
<line x1="38.00" y1="392.30" x2="38.00" y2="393.90" stroke="#1a1a1a" stroke-width="0.6" />
<line x1="40.40" y1="392.30" x2="40.40" y2="393.90" stroke="#1a1a1a" stroke-width="0.6" />
<line x1="42.80" y1="392.30" x2="42.80" y2="393.90" stroke="#1a1a1a" stroke-width="0.6" />
<line x1="45.20" y1="392.30" x2="45.20" y2="393.90" stroke="#1a1a1a" stroke-width="0.6" />
<line x1="47.60" y1="392.30" x2="47.60" y2="393.90" stroke="#1a1a1a" stroke-width="0.6" />
<line x1="50.00" y1="392.30" x2="50.00" y2="393.90" stroke="#1a1a1a" stroke-width="0.6" />
<line x1="52.40" y1="392.30" x2="52.40" y2="393.90" stroke="#1a1a1a" stroke-width="0.6" />
<line x1="54.80" y1="392.30" x2="54.80" y2="393.90" stroke="#1a1a1a" stroke-width="0.6" />
<line x1="57.20" y1="392.30" x2="57.20" y2="393.90" stroke="#1a1a1a" stroke-width="0.6" />
<line x1="59.60" y1="392.30" x2="59.60" y2="393.90" stroke="#1a1a1a" stroke-width="0.6" />
<line x1="63.50" y1="392.30" x2="63.50" y2="393.90" stroke="#1a1a1a" stroke-width="0.6" />
<line x1="65.20" y1="392.30" x2="65.20" y2="393.90" stroke="#1a1a1a" stroke-width="0.6" />
<line x1="66.90" y1="392.30" x2="66.90" y2="393.90" stroke="#1a1a1a" stroke-width="0.6" />
<line x1="68.60" y1="392.30" x2="68.60" y2="393.90" stroke="#1a1a1a" stroke-width="0.6" />
<line x1="70.30" y1="392.30" x2="70.30" y2="393.90" stroke="#1a1a1a" stroke-width="0.6" />
<line x1="72.00" y1="392.30" x2="72.00" y2="393.90" stroke="#1a1a1a" stroke-width="0.6" />
<line x1="73.70" y1="392.30" x2="73.70" y2="393.90" stroke="#1a1a1a" stroke-width="0.6" />
<line x1="75.40" y1="392.30" x2="75.40" y2="393.90" stroke="#1a1a1a" stroke-width="0.6" />
<line x1="77.10" y1="392.30" x2="77.10" y2="393.90" stroke="#1a1a1a" stroke-width="0.6" />
<rect x="55.5" y="392.30" width="6.5" height="1.8" fill="#222"/>
<path d="M60.00,392.30 L60.00,392.30 L60.50,392.30 L61.00,392.30 L61.50,392.30 L62.00,392.30 L62.50,392.30 L63.00,392.29 L63.50,392.29 L64.00,392.28 L64.50,392.27 L65.00,392.26 L65.50,392.23 L66.00,392.19 L66.50,392.12 L67.00,392.03 L67.50,391.89 L68.00,391.68 L68.50,391.39 L69.00,390.98 L69.50,390.43 L70.00,389.68 L70.50,388.71 L71.00,387.45 L71.50,385.87 L72.00,383.92 L72.50,381.57 L73.00,378.79 L73.50,375.59 L74.00,371.98 L74.50,368.01 L75.00,363.77 L75.50,359.36 L76.00,354.92 L76.50,350.61 L77.00,346.61 L77.50,343.08 L78.00,340.18 L78.50,338.06 L79.00,336.83 L79.50,336.54 L80.00,337.34 L80.50,339.21 L81.00,342.06 L81.50,345.71 L82.00,349.97 L82.50,354.62 L83.00,359.44 L83.50,364.21 L84.00,368.78 L84.50,373.01 L85.00,376.79 L85.50,380.09 L86.00,382.87 L86.50,385.17 L87.00,387.02 L87.50,388.47 L88.00,389.57 L88.50,390.40 L89.00,391.00 L89.50,391.43 L90.00,391.73 L90.50,391.93 L91.00,392.07 L91.50,392.16 L92.00,392.21 L92.50,392.25 L93.00,392.27 L93.50,392.28 L94.00,392.29 L94.50,392.29 L95.00,392.30 L95.50,392.30 L96.00,392.30 L96.50,392.30 L97.00,392.30 L97.50,392.30 L98.00,392.30 L98.50,392.30 L99.00,392.30 L99.50,392.30 L100.00,392.30 L100.50,392.30 L101.00,392.30 L101.50,392.30 L102.00,392.30 L102.50,392.30 L103.00,392.30 L103.50,392.30 L104.00,392.30 L104.00,392.30Z" fill="#bfe0f2" stroke="#4fb0e0" stroke-width="0.85"/>
<path d="M60.00,392.30 L60.00,392.30 L60.50,392.30 L61.00,392.30 L61.50,392.30 L62.00,392.29 L62.50,392.29 L63.00,392.29 L63.50,392.28 L64.00,392.27 L64.50,392.26 L65.00,392.24 L65.50,392.22 L66.00,392.19 L66.50,392.14 L67.00,392.08 L67.50,392.00 L68.00,391.89 L68.50,391.74 L69.00,391.55 L69.50,391.31 L70.00,391.01 L70.50,390.62 L71.00,390.14 L71.50,389.54 L72.00,388.81 L72.50,387.93 L73.00,386.88 L73.50,385.64 L74.00,384.19 L74.50,382.52 L75.00,380.61 L75.50,378.46 L76.00,376.05 L76.50,373.41 L77.00,370.54 L77.50,367.47 L78.00,364.22 L78.50,360.83 L79.00,357.37 L79.50,353.88 L80.00,350.43 L80.50,347.09 L81.00,343.93 L81.50,341.03 L82.00,338.46 L82.50,336.27 L83.00,334.54 L83.50,333.30 L84.00,332.58 L84.50,332.43 L85.00,333.19 L85.50,335.00 L86.00,337.75 L86.50,341.32 L87.00,345.51 L87.50,350.14 L88.00,354.99 L88.50,359.89 L89.00,364.65 L89.50,369.14 L90.00,373.25 L90.50,376.91 L91.00,380.10 L91.50,382.80 L92.00,385.04 L92.50,386.85 L93.00,388.28 L93.50,389.39 L94.00,390.23 L94.50,390.86 L95.00,391.31 L95.50,391.63 L96.00,391.86 L96.50,392.01 L97.00,392.12 L97.50,392.19 L98.00,392.23 L98.50,392.26 L99.00,392.28 L99.50,392.29 L100.00,392.29 L100.50,392.30 L101.00,392.30 L101.50,392.30 L102.00,392.30 L102.50,392.30 L103.00,392.30 L103.50,392.30 L104.00,392.30 L104.00,392.30Z" fill="#d68e8e" stroke="#b02848" stroke-width="0.9"/>
<text x="59.20" y="341.20" font-size="5.8" text-anchor="middle" font-weight="normal" fill="#1a1a1a"  style="">Healthy</text>
<text x="59.20" y="348.80" font-size="5.8" text-anchor="middle" font-weight="normal" fill="#1a1a1a"  style="">control</text>
<text x="114.80" y="341.20" font-size="5.8" text-anchor="middle" font-weight="normal" fill="#1a1a1a"  style="">CTLA4 deficiency</text>
<text x="114.80" y="348.80" font-size="5.8" text-anchor="middle" font-weight="normal" fill="#1a1a1a"  style="">(pre-abatacept)</text>
<line x1="18.00" y1="390.80" x2="18.00" y2="410.25" stroke="#1a1a1a" stroke-width="1.1" />
<line x1="18.00" y1="409.70" x2="33.30" y2="409.70" stroke="#1a1a1a" stroke-width="1.1" />
<path d="M16.00,392.40 L18.00,387.80 L20.00,392.40Z" fill="#1a1a1a"/>
<path d="M31.70,407.70 L36.30,409.70 L31.70,411.70Z" fill="#1a1a1a"/>
<text transform="translate(14.19,397.30) rotate(-90)" x="0" y="0" font-size="7.4" text-anchor="middle" font-weight="normal" stroke="#1a1a1a" stroke-width="0.2" fill="#1a1a1a" textLength="13" lengthAdjust="spacingAndGlyphs">Count</text>
<text x="29.40" y="419.60" font-size="7.6" text-anchor="middle" font-weight="normal" stroke="#1a1a1a" stroke-width="0.2" fill="#1a1a1a" textLength="16.8" lengthAdjust="spacingAndGlyphs"  style="">CD40L</text>
<line x1="197.40" y1="312.30" x2="197.40" y2="393.20" stroke="#1a1a1a" stroke-width="1.3" />
<line x1="197.40" y1="392.60" x2="343.50" y2="392.60" stroke="#1a1a1a" stroke-width="1.2" />
<line x1="194.30" y1="392.60" x2="197.40" y2="392.60" stroke="#1a1a1a" stroke-width="0.9" />
<text x="191.30" y="394.60" font-size="6.2" text-anchor="end" font-weight="normal" fill="#1a1a1a"  style="">500</text>
<line x1="194.30" y1="367.00" x2="197.40" y2="367.00" stroke="#1a1a1a" stroke-width="0.9" />
<text x="191.30" y="369.00" font-size="6.2" text-anchor="end" font-weight="normal" fill="#1a1a1a"  style="">1000</text>
<line x1="194.30" y1="341.40" x2="197.40" y2="341.40" stroke="#1a1a1a" stroke-width="0.9" />
<text x="191.30" y="343.40" font-size="6.2" text-anchor="end" font-weight="normal" fill="#1a1a1a"  style="">1500</text>
<line x1="194.30" y1="315.80" x2="197.40" y2="315.80" stroke="#1a1a1a" stroke-width="0.9" />
<text x="191.30" y="317.80" font-size="6.2" text-anchor="end" font-weight="normal" fill="#1a1a1a"  style="">2000</text>
<line x1="246.90" y1="392.60" x2="246.90" y2="394.60" stroke="#1a1a1a" stroke-width="0.8" />
<line x1="295.40" y1="392.60" x2="295.40" y2="394.60" stroke="#1a1a1a" stroke-width="0.8" />
<text transform="translate(162.83,350.00) rotate(-90)" x="0" y="0" font-size="7.8" text-anchor="middle" font-weight="normal" stroke="#1a1a1a" stroke-width="0.2" fill="#1a1a1a" textLength="48.4" lengthAdjust="spacingAndGlyphs">CD40L (MFI) assayed</text>
<text transform="translate(171.83,349.50) rotate(-90)" x="0" y="0" font-size="7.8" text-anchor="middle" font-weight="normal" stroke="#1a1a1a" stroke-width="0.2" fill="#1a1a1a" textLength="64.2" lengthAdjust="spacingAndGlyphs">unstimulated CD4+ T cells</text>
<text x="222.20" y="403.50" font-size="6.4" text-anchor="middle" font-weight="normal" fill="#1a1a1a"  style="">CD4+</text>
<text x="222.20" y="410.80" font-size="6.2" text-anchor="middle" font-weight="normal" fill="#1a1a1a"  style="">total</text>
<text x="270.20" y="403.50" font-size="6.4" text-anchor="middle" font-weight="normal" fill="#1a1a1a"  style="">CD4+</text>
<text x="270.20" y="410.80" font-size="6.2" text-anchor="middle" font-weight="normal" fill="#1a1a1a"  style="">TEMRA</text>
<text x="318.50" y="403.50" font-size="6.4" text-anchor="middle" font-weight="normal" fill="#1a1a1a"  style="">CD4+</text>
<text x="318.50" y="410.80" font-size="6.2" text-anchor="middle" font-weight="normal" fill="#1a1a1a"  style="">EM</text>
<circle cx="207.00" cy="353.50" r="1.45" fill="#3399c0"/>
<circle cx="217.40" cy="353.50" r="1.45" fill="#3399c0"/>
<circle cx="210.80" cy="356.20" r="1.45" fill="#3399c0"/>
<circle cx="213.40" cy="356.00" r="1.45" fill="#3399c0"/>
<circle cx="206.50" cy="363.80" r="1.45" fill="#3399c0"/>
<circle cx="217.50" cy="363.20" r="1.45" fill="#3399c0"/>
<circle cx="209.60" cy="366.60" r="1.45" fill="#3399c0"/>
<circle cx="213.80" cy="367.00" r="1.45" fill="#3399c0"/>
<circle cx="208.30" cy="369.70" r="1.45" fill="#3399c0"/>
<circle cx="216.80" cy="370.10" r="1.45" fill="#3399c0"/>
<circle cx="212.60" cy="373.50" r="1.45" fill="#3399c0"/>
<circle cx="235.50" cy="340.20" r="1.45" fill="#a8173d"/>
<circle cx="235.00" cy="347.00" r="1.45" fill="#a8173d"/>
<circle cx="228.20" cy="355.50" r="1.45" fill="#a8173d"/>
<circle cx="240.50" cy="354.50" r="1.45" fill="#a8173d"/>
<circle cx="235.30" cy="357.80" r="1.45" fill="#a8173d"/>
<circle cx="231.30" cy="360.30" r="1.45" fill="#a8173d"/>
<circle cx="239.30" cy="360.30" r="1.45" fill="#a8173d"/>
<circle cx="235.50" cy="364.00" r="1.45" fill="#a8173d"/>
<line x1="212.50" y1="357.50" x2="212.50" y2="370.50" stroke="#1a1a1a" stroke-width="1.1" />
<line x1="205.10" y1="364.50" x2="219.90" y2="364.50" stroke="#1a1a1a" stroke-width="1.1" />
<line x1="209.30" y1="357.50" x2="215.70" y2="357.50" stroke="#1a1a1a" stroke-width="1.1" />
<line x1="209.30" y1="370.50" x2="215.70" y2="370.50" stroke="#1a1a1a" stroke-width="1.1" />
<line x1="235.50" y1="347.50" x2="235.50" y2="363.50" stroke="#1a1a1a" stroke-width="1.1" />
<line x1="228.10" y1="355.50" x2="242.90" y2="355.50" stroke="#1a1a1a" stroke-width="1.1" />
<line x1="232.10" y1="347.50" x2="238.90" y2="347.50" stroke="#1a1a1a" stroke-width="1.1" />
<line x1="232.10" y1="363.50" x2="238.90" y2="363.50" stroke="#1a1a1a" stroke-width="1.1" />
<path d="M211.20,336.00 L211.20,331.90 L234.60,331.90 L234.60,336.00" fill="none" stroke="#222" stroke-width="1.0"/>
<text x="222.90" y="328.40" font-size="6.3" text-anchor="middle" font-weight="normal" fill="#111"  style=""><tspan font-style="italic">P</tspan> = .057</text>
<circle cx="258.40" cy="330.10" r="1.45" fill="#3399c0"/>
<circle cx="254.00" cy="346.40" r="1.45" fill="#3399c0"/>
<circle cx="262.60" cy="348.50" r="1.45" fill="#3399c0"/>
<circle cx="256.40" cy="356.20" r="1.45" fill="#3399c0"/>
<circle cx="260.50" cy="357.00" r="1.45" fill="#3399c0"/>
<circle cx="264.20" cy="356.20" r="1.45" fill="#3399c0"/>
<circle cx="258.00" cy="360.60" r="1.45" fill="#3399c0"/>
<circle cx="252.60" cy="352.60" r="1.45" fill="#3399c0"/>
<circle cx="258.60" cy="352.00" r="1.45" fill="#3399c0"/>
<circle cx="281.20" cy="328.00" r="1.45" fill="#a8173d"/>
<circle cx="276.80" cy="337.10" r="1.45" fill="#a8173d"/>
<circle cx="285.70" cy="337.10" r="1.45" fill="#a8173d"/>
<circle cx="280.00" cy="339.90" r="1.45" fill="#a8173d"/>
<circle cx="282.00" cy="341.60" r="1.45" fill="#a8173d"/>
<circle cx="285.40" cy="344.80" r="1.45" fill="#a8173d"/>
<circle cx="278.40" cy="349.70" r="1.45" fill="#a8173d"/>
<circle cx="283.30" cy="349.70" r="1.45" fill="#a8173d"/>
<line x1="258.50" y1="343.50" x2="258.50" y2="361.50" stroke="#1a1a1a" stroke-width="1.1" />
<line x1="251.20" y1="352.50" x2="265.80" y2="352.50" stroke="#1a1a1a" stroke-width="1.1" />
<line x1="255.30" y1="343.50" x2="261.70" y2="343.50" stroke="#1a1a1a" stroke-width="1.1" />
<line x1="255.30" y1="361.50" x2="261.70" y2="361.50" stroke="#1a1a1a" stroke-width="1.1" />
<line x1="281.50" y1="333.50" x2="281.50" y2="348.50" stroke="#1a1a1a" stroke-width="1.1" />
<line x1="274.30" y1="340.50" x2="288.70" y2="340.50" stroke="#1a1a1a" stroke-width="1.1" />
<line x1="278.10" y1="333.50" x2="284.90" y2="333.50" stroke="#1a1a1a" stroke-width="1.1" />
<line x1="278.10" y1="348.50" x2="284.90" y2="348.50" stroke="#1a1a1a" stroke-width="1.1" />
<path d="M257.20,318.80 L257.20,315.00 L280.50,315.00 L280.50,318.80" fill="none" stroke="#222" stroke-width="1.0"/>
<text x="265.54" y="314.80" font-size="7.4" font-weight="bold" fill="#111" letter-spacing="0.9">**</text>
<circle cx="304.00" cy="341.30" r="1.45" fill="#3399c0"/>
<circle cx="300.20" cy="352.40" r="1.45" fill="#3399c0"/>
<circle cx="299.80" cy="359.50" r="1.45" fill="#3399c0"/>
<circle cx="308.40" cy="358.80" r="1.45" fill="#3399c0"/>
<circle cx="304.00" cy="367.10" r="1.45" fill="#3399c0"/>
<circle cx="304.40" cy="355.00" r="1.45" fill="#3399c0"/>
<circle cx="308.00" cy="351.50" r="1.45" fill="#3399c0"/>
<circle cx="302.00" cy="361.50" r="1.45" fill="#3399c0"/>
<circle cx="306.30" cy="363.00" r="1.45" fill="#3399c0"/>
<circle cx="297.80" cy="354.80" r="1.45" fill="#3399c0"/>
<circle cx="327.00" cy="329.60" r="1.45" fill="#a8173d"/>
<circle cx="327.00" cy="338.70" r="1.45" fill="#a8173d"/>
<circle cx="321.30" cy="346.30" r="1.45" fill="#a8173d"/>
<circle cx="332.70" cy="346.70" r="1.45" fill="#a8173d"/>
<circle cx="325.50" cy="348.50" r="1.45" fill="#a8173d"/>
<circle cx="329.00" cy="350.50" r="1.45" fill="#a8173d"/>
<circle cx="327.00" cy="359.50" r="1.45" fill="#a8173d"/>
<circle cx="323.80" cy="345.50" r="1.45" fill="#a8173d"/>
<line x1="304.50" y1="347.50" x2="304.50" y2="362.50" stroke="#1a1a1a" stroke-width="1.1" />
<line x1="297.00" y1="354.50" x2="312.00" y2="354.50" stroke="#1a1a1a" stroke-width="1.1" />
<line x1="301.30" y1="347.50" x2="307.70" y2="347.50" stroke="#1a1a1a" stroke-width="1.1" />
<line x1="301.30" y1="362.50" x2="307.70" y2="362.50" stroke="#1a1a1a" stroke-width="1.1" />
<line x1="327.50" y1="337.50" x2="327.50" y2="354.50" stroke="#1a1a1a" stroke-width="1.1" />
<line x1="320.20" y1="346.50" x2="334.80" y2="346.50" stroke="#1a1a1a" stroke-width="1.1" />
<line x1="324.10" y1="337.50" x2="330.90" y2="337.50" stroke="#1a1a1a" stroke-width="1.1" />
<line x1="324.10" y1="354.50" x2="330.90" y2="354.50" stroke="#1a1a1a" stroke-width="1.1" />
<path d="M302.80,325.30 L302.80,320.60 L326.60,320.60 L326.60,325.30" fill="none" stroke="#222" stroke-width="1.0"/>
<text x="313.26" y="320.50" font-size="7.4" font-weight="bold" fill="#111" letter-spacing="0.9">*</text>
<circle cx="196.20" cy="419.50" r="1.2" fill="#3399c0"/>
<text x="199.20" y="421.60" font-size="6.1" text-anchor="start" font-weight="normal" fill="#1a1a1a" textLength="67.7" lengthAdjust="spacingAndGlyphs"  style="">Healthy controls (n = 10)</text>
<circle cx="273.70" cy="419.50" r="1.2" fill="#a8173d"/>
<text x="277.70" y="421.60" font-size="6.1" text-anchor="start" font-weight="normal" fill="#1a1a1a" textLength="67.7" lengthAdjust="spacingAndGlyphs"  style="">CTLA4 deficiency (n = 8)</text>
<line x1="397.50" y1="312.40" x2="397.50" y2="392.90" stroke="#1a1a1a" stroke-width="1.3" />
<line x1="397.50" y1="392.30" x2="510.60" y2="392.30" stroke="#1a1a1a" stroke-width="1.2" />
<line x1="394.60" y1="392.60" x2="397.50" y2="392.60" stroke="#1a1a1a" stroke-width="0.9" />
<text x="391.60" y="394.60" font-size="6.2" text-anchor="end" font-weight="normal" fill="#1a1a1a"  style="">500</text>
<line x1="394.60" y1="367.00" x2="397.50" y2="367.00" stroke="#1a1a1a" stroke-width="0.9" />
<text x="391.60" y="369.00" font-size="6.2" text-anchor="end" font-weight="normal" fill="#1a1a1a"  style="">1000</text>
<line x1="394.60" y1="341.40" x2="397.50" y2="341.40" stroke="#1a1a1a" stroke-width="0.9" />
<text x="391.60" y="343.40" font-size="6.2" text-anchor="end" font-weight="normal" fill="#1a1a1a"  style="">1500</text>
<line x1="394.60" y1="315.80" x2="397.50" y2="315.80" stroke="#1a1a1a" stroke-width="0.9" />
<text x="391.60" y="317.80" font-size="6.2" text-anchor="end" font-weight="normal" fill="#1a1a1a"  style="">2000</text>
<line x1="397.50" y1="392.30" x2="397.50" y2="394.30" stroke="#1a1a1a" stroke-width="0.8" />
<text x="397.50" y="403.60" font-size="6.0" text-anchor="middle" font-weight="normal" fill="#1a1a1a"  style="">0</text>
<line x1="419.74" y1="392.30" x2="419.74" y2="394.30" stroke="#1a1a1a" stroke-width="0.8" />
<text x="419.74" y="403.60" font-size="6.0" text-anchor="middle" font-weight="normal" fill="#1a1a1a"  style="">20</text>
<line x1="441.98" y1="392.30" x2="441.98" y2="394.30" stroke="#1a1a1a" stroke-width="0.8" />
<text x="441.98" y="403.60" font-size="6.0" text-anchor="middle" font-weight="normal" fill="#1a1a1a"  style="">40</text>
<line x1="464.22" y1="392.30" x2="464.22" y2="394.30" stroke="#1a1a1a" stroke-width="0.8" />
<text x="464.22" y="403.60" font-size="6.0" text-anchor="middle" font-weight="normal" fill="#1a1a1a"  style="">60</text>
<line x1="486.46" y1="392.30" x2="486.46" y2="394.30" stroke="#1a1a1a" stroke-width="0.8" />
<text x="486.46" y="403.60" font-size="6.0" text-anchor="middle" font-weight="normal" fill="#1a1a1a"  style="">80</text>
<line x1="508.70" y1="392.30" x2="508.70" y2="394.30" stroke="#1a1a1a" stroke-width="0.8" />
<text x="508.70" y="403.60" font-size="6.0" text-anchor="middle" font-weight="normal" fill="#1a1a1a"  style="">100</text>
<text transform="translate(363.73,351.70) rotate(-90)" x="0" y="0" font-size="7.8" text-anchor="middle" font-weight="normal" stroke="#1a1a1a" stroke-width="0.2" fill="#1a1a1a" textLength="61.7" lengthAdjust="spacingAndGlyphs">CD40L (MFI) assayed in</text>
<text transform="translate(371.83,351.20) rotate(-90)" x="0" y="0" font-size="7.8" text-anchor="middle" font-weight="normal" stroke="#1a1a1a" stroke-width="0.2" fill="#1a1a1a" textLength="83.7" lengthAdjust="spacingAndGlyphs">unstimulated TEMRA CD4+ T cells</text>
<text x="454.00" y="415.40" font-size="7.2" text-anchor="middle" font-weight="normal" stroke="#1a1a1a" stroke-width="0.2" fill="#1a1a1a" textLength="105" lengthAdjust="spacingAndGlyphs"  style="">FO B cells (MTG&#8722;CD10&#8722; as %IgD+CD27&#8722;)</text>
<polyline points="415.96,334.90 494.02,357.99" fill="none" stroke="#1a1a1a" stroke-width="0.9"/>
<polyline points="416.40,327.02 418.63,328.03 420.85,329.04 423.08,330.04 425.30,331.03 427.52,332.01 429.75,332.98 431.97,333.93 434.20,334.87 436.42,335.80 438.64,336.70 440.87,337.57 443.09,338.42 445.32,339.23 447.54,340.01 449.76,340.75 451.99,341.45 454.21,342.11 456.44,342.73 458.66,343.30 460.88,343.84 463.11,344.34 465.33,344.81 467.56,345.25 469.78,345.66 472.00,346.06 474.23,346.43 476.45,346.79 478.68,347.14 480.90,347.48 483.12,347.80 485.35,348.12 487.57,348.43 489.80,348.73 492.02,349.03 494.24,349.32" fill="none" stroke="#333" stroke-width="0.8" stroke-dasharray="1 0.9"/>
<polyline points="416.40,343.04 418.63,343.34 420.85,343.65 423.08,343.97 425.30,344.29 427.52,344.63 429.75,344.97 431.97,345.33 434.20,345.71 436.42,346.10 438.64,346.52 440.87,346.96 443.09,347.43 445.32,347.93 447.54,348.47 449.76,349.04 451.99,349.66 454.21,350.31 456.44,351.01 458.66,351.76 460.88,352.54 463.11,353.35 465.33,354.20 467.56,355.07 469.78,355.97 472.00,356.89 474.23,357.83 476.45,358.79 478.68,359.76 480.90,360.74 483.12,361.73 485.35,362.73 487.57,363.74 489.80,364.75 492.02,365.77 494.24,366.79" fill="none" stroke="#333" stroke-width="0.8" stroke-dasharray="1 0.9"/>
<circle cx="415.30" cy="340.00" r="1.45" fill="#a8173d"/>
<circle cx="420.70" cy="336.70" r="1.45" fill="#a8173d"/>
<circle cx="423.70" cy="337.20" r="1.45" fill="#a8173d"/>
<circle cx="437.00" cy="327.90" r="1.45" fill="#a8173d"/>
<circle cx="442.80" cy="345.80" r="1.45" fill="#a8173d"/>
<circle cx="448.60" cy="341.40" r="1.45" fill="#a8173d"/>
<circle cx="452.80" cy="350.00" r="1.45" fill="#a8173d"/>
<circle cx="463.00" cy="350.00" r="1.45" fill="#a8173d"/>
<circle cx="466.00" cy="330.10" r="1.45" fill="#3399c0"/>
<circle cx="465.10" cy="345.60" r="1.45" fill="#3399c0"/>
<circle cx="467.00" cy="348.70" r="1.45" fill="#3399c0"/>
<circle cx="464.20" cy="355.80" r="1.45" fill="#3399c0"/>
<circle cx="467.50" cy="355.40" r="1.45" fill="#3399c0"/>
<circle cx="467.50" cy="361.00" r="1.45" fill="#3399c0"/>
<circle cx="475.30" cy="362.30" r="1.45" fill="#3399c0"/>
<circle cx="478.10" cy="354.00" r="1.45" fill="#3399c0"/>
<circle cx="477.20" cy="357.70" r="1.45" fill="#3399c0"/>
<circle cx="494.00" cy="350.20" r="1.45" fill="#3399c0"/>
<line x1="473.50" y1="307.40" x2="481.00" y2="307.40" stroke="#1a1a1a" stroke-width="0.9" />
<path d="M475.2,307.4 L477.3,305.5 L479.4,307.4 L477.3,309.3Z" fill="#1a1a1a"/>
<text x="484.7" y="309.6" font-size="6.2" fill="#1a1a1a"><tspan font-style="italic">P</tspan> = .0037</text>
<text x="476.3" y="318.6" font-size="6.2" fill="#1a1a1a">R<tspan font-size="3.8" dy="-2.6">2</tspan><tspan dy="2.6"> = 0.4187</tspan></text>
<rect x="0.5" y="0.5" width="519" height="429" fill="none" stroke="#5a5a5a" stroke-width="1"/>
</svg></body></html>
